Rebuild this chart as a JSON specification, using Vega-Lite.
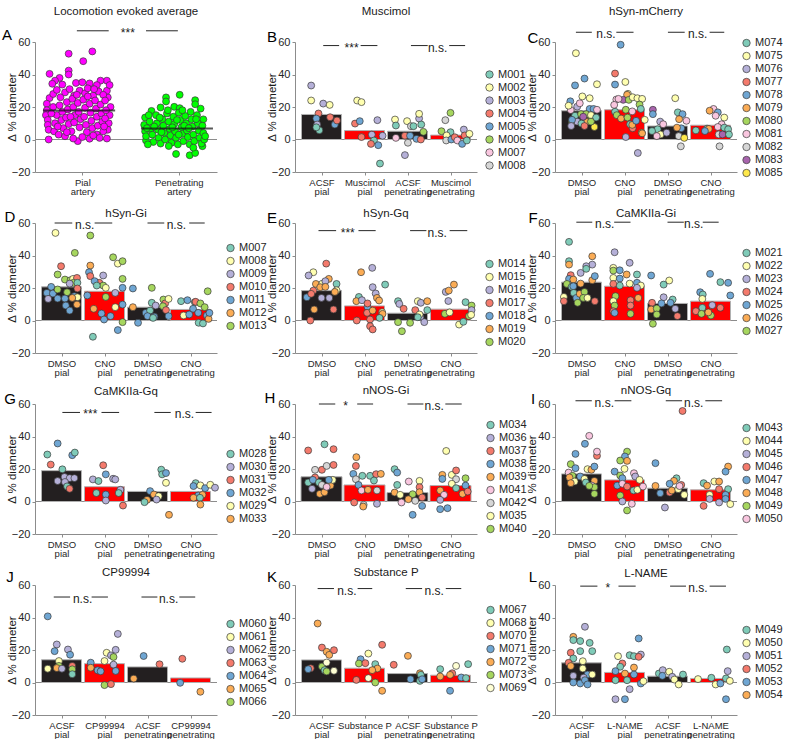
{
"$schema":"https://vega.github.io/schema/vega-lite/v6.json",
"padding":{"left":1,"top":5,"right":0,"bottom":0},
"config":{"font":"Liberation Sans","view":{"stroke":null},
"title":{"fontSize":11.5,"fontWeight":"normal","color":"#1a1a1a","anchor":"middle"},
"axis":{"grid":false,"domainColor":"#8c8c8c","tickColor":"#8c8c8c","labelColor":"#262626","titleColor":"#1a1a1a","titleFontWeight":"normal","tickSize":3,"labelPadding":2,"labelOverlap":false},
"axisX":{"labelFontSize":9.5,"labelLineHeight":9.5,"labelAngle":0},
"axisY":{"labelFontSize":11,"titleFontSize":11.5,"titlePadding":-6,"labelOverlap":false,"tickCount":10},
"legend":{"orient":"none","padding":0,"rowPadding":1,"labelFontSize":11,"labelColor":"#262626","symbolSize":55,"symbolType":"circle","symbolStrokeColor":"#4a4a4a","symbolStrokeWidth":0.8,"labelOffset":3}},
"resolve":{"scale":{"color":"independent","fill":"independent","x":"independent","y":"independent"},"axis":{"x":"independent","y":"independent"},"legend":{"color":"independent"}},
"datasets":{
"letters":[{"p":"A","t":"A"},{"p":"B","t":"B"},{"p":"C","t":"C"},{"p":"D","t":"D"},{"p":"E","t":"E"},{"p":"F","t":"F"},{"p":"G","t":"G"},{"p":"H","t":"H"},{"p":"I","t":"I"},{"p":"J","t":"J"},{"p":"K","t":"K"},{"p":"L","t":"L"}],
"bars":[{"p":"A","x":0.485,"y":17.8,"t":"c"},{"p":"A","x":1.56,"y":6.8,"t":"c"},
{"p":"B","x":0.5,"y":15.4,"t":"c"},{"p":"B","x":1.5,"y":5.5,"t":"d"},{"p":"B","x":2.5,"y":5.1,"t":"c"},{"p":"B","x":3.5,"y":2.7,"t":"d"},
{"p":"C","x":0.5,"y":17.7,"t":"c"},{"p":"C","x":1.5,"y":18.3,"t":"d"},{"p":"C","x":2.5,"y":8.3,"t":"c"},{"p":"C","x":3.5,"y":8.8,"t":"d"},
{"p":"D","x":0.5,"y":20.7,"t":"c"},{"p":"D","x":1.5,"y":18,"t":"d"},{"p":"D","x":2.5,"y":8.2,"t":"c"},{"p":"D","x":3.5,"y":6.8,"t":"d"},
{"p":"E","x":0.5,"y":18.4,"t":"c"},{"p":"E","x":1.5,"y":9,"t":"d"},{"p":"E","x":2.5,"y":4.5,"t":"c"},{"p":"E","x":3.5,"y":7,"t":"d"},
{"p":"F","x":0.5,"y":23.6,"t":"c"},{"p":"F","x":1.5,"y":21.1,"t":"d"},{"p":"F","x":2.5,"y":10.5,"t":"c"},{"p":"F","x":3.5,"y":11.9,"t":"d"},
{"p":"G","x":0.5,"y":19,"t":"c"},{"p":"G","x":1.5,"y":9.1,"t":"d"},{"p":"G","x":2.5,"y":6.2,"t":"c"},{"p":"G","x":3.5,"y":6.2,"t":"d"},
{"p":"H","x":0.5,"y":15.2,"t":"c"},{"p":"H","x":1.5,"y":10.2,"t":"d"},{"p":"H","x":2.5,"y":5.5,"t":"c"},{"p":"H","x":3.5,"y":9.8,"t":"d"},
{"p":"I","x":0.5,"y":17,"t":"c"},{"p":"I","x":1.5,"y":13.3,"t":"d"},{"p":"I","x":2.5,"y":8.2,"t":"c"},{"p":"I","x":3.5,"y":7.2,"t":"d"},
{"p":"J","x":0.5,"y":14,"t":"c"},{"p":"J","x":1.5,"y":11.6,"t":"d"},{"p":"J","x":2.5,"y":9.6,"t":"c"},{"p":"J","x":3.5,"y":2.8,"t":"d"},
{"p":"K","x":0.5,"y":13.9,"t":"c"},{"p":"K","x":1.5,"y":8.8,"t":"d"},{"p":"K","x":2.5,"y":5.5,"t":"c"},{"p":"K","x":3.5,"y":4.5,"t":"d"},
{"p":"L","x":0.5,"y":12.1,"t":"c"},{"p":"L","x":1.5,"y":6.2,"t":"d"},{"p":"L","x":2.5,"y":3.9,"t":"c"},{"p":"L","x":3.5,"y":2.5,"t":"d"}],
"sig":[{"p":"A","x":0.46,"x2":0.81,"y":66.9},{"p":"A","x":1.22,"x2":1.57,"y":66.9},
{"p":"B","x":0.54,"x2":0.91,"y":57.8},{"p":"B","x":1.41,"x2":1.8,"y":57.8},{"p":"B","x":2.58,"x2":2.97,"y":57.8},{"p":"B","x":3.47,"x2":3.84,"y":57.8},
{"p":"C","x":0.37,"x2":0.74,"y":66},{"p":"C","x":1.31,"x2":1.71,"y":66},{"p":"C","x":2.51,"x2":2.9,"y":66},{"p":"C","x":3.48,"x2":3.82,"y":66},
{"p":"D","x":0.34,"x2":0.75,"y":60},{"p":"D","x":1.27,"x2":1.68,"y":60},{"p":"D","x":2.5,"x2":2.89,"y":60},{"p":"D","x":3.47,"x2":3.83,"y":60},
{"p":"E","x":0.43,"x2":0.84,"y":55.3},{"p":"E","x":1.36,"x2":1.76,"y":55.3},{"p":"E","x":2.56,"x2":2.94,"y":55.3},{"p":"E","x":3.48,"x2":3.89,"y":55.3},
{"p":"F","x":0.38,"x2":0.75,"y":60.5},{"p":"F","x":1.26,"x2":1.64,"y":60.5},{"p":"F","x":2.5,"x2":2.88,"y":60.5},{"p":"F","x":3.32,"x2":3.69,"y":60.5},
{"p":"G","x":0.52,"x2":0.93,"y":54.8},{"p":"G","x":1.43,"x2":1.84,"y":54.8},{"p":"G","x":2.66,"x2":3.04,"y":54.8},{"p":"G","x":3.62,"x2":3.99,"y":54.8},
{"p":"H","x":0.44,"x2":0.82,"y":60},{"p":"H","x":1.33,"x2":1.7,"y":60},{"p":"H","x":2.5,"x2":2.87,"y":60},{"p":"H","x":3.38,"x2":3.76,"y":60},
{"p":"I","x":0.36,"x2":0.74,"y":62},{"p":"I","x":1.27,"x2":1.66,"y":62},{"p":"I","x":2.46,"x2":2.84,"y":62},{"p":"I","x":3.38,"x2":3.77,"y":62},
{"p":"J","x":0.32,"x2":0.7,"y":52.6},{"p":"J","x":1.2,"x2":1.58,"y":52.6},{"p":"J","x":2.36,"x2":2.73,"y":52.6},{"p":"J","x":3.24,"x2":3.61,"y":52.6},
{"p":"K","x":0.41,"x2":0.79,"y":57.8},{"p":"K","x":1.34,"x2":1.68,"y":57.8},{"p":"K","x":2.46,"x2":2.84,"y":57.8},{"p":"K","x":3.39,"x2":3.75,"y":57.8},
{"p":"L","x":0.47,"x2":0.87,"y":59.3},{"p":"L","x":1.36,"x2":1.76,"y":59.3},{"p":"L","x":2.56,"x2":2.93,"y":59.3},{"p":"L","x":3.48,"x2":3.86,"y":59.3}],
"sigt":[{"p":"A","x":1.02,"y":66.9,"t":"***"},
{"p":"B","x":1.2,"y":57.8,"t":"***"},{"p":"B","x":3.2,"y":57.8,"t":"n.s."},
{"p":"C","x":1.07,"y":66,"t":"n.s."},{"p":"C","x":3.2,"y":66,"t":"n.s."},
{"p":"D","x":1.04,"y":60,"t":"n.s."},{"p":"D","x":3.17,"y":60,"t":"n.s."},
{"p":"E","x":1.11,"y":55.3,"t":"***"},{"p":"E","x":3.19,"y":55.3,"t":"n.s."},
{"p":"F","x":1.04,"y":60.5,"t":"n.s."},{"p":"F","x":3.11,"y":60.5,"t":"n.s."},
{"p":"G","x":1.17,"y":54.8,"t":"***"},{"p":"G","x":3.36,"y":54.8,"t":"n.s."},
{"p":"H","x":1.06,"y":60,"t":"*"},{"p":"H","x":3.12,"y":60,"t":"n.s."},
{"p":"I","x":1.03,"y":62,"t":"n.s."},{"p":"I","x":3.11,"y":62,"t":"n.s."},
{"p":"J","x":0.99,"y":52.6,"t":"n.s."},{"p":"J","x":2.99,"y":52.6,"t":"n.s."},
{"p":"K","x":1.09,"y":57.8,"t":"n.s."},{"p":"K","x":3.12,"y":57.8,"t":"n.s."},
{"p":"L","x":1.11,"y":59.3,"t":"*"},{"p":"L","x":3.21,"y":59.3,"t":"n.s."}],
"pts":[
{"p":"A","m":"Pial","x":0.15,"y":0},{"p":"A","m":"Pial","x":0.16,"y":40.4},{"p":"A","m":"Pial","x":0.37,"y":52.8},{"p":"A","m":"Pial","x":0.37,"y":42.4},{"p":"A","m":"Pial","x":0.37,"y":40},{"p":"A","m":"Pial","x":0.53,"y":48.2},{"p":"A","m":"Pial","x":0.63,"y":54.2},{"p":"A","m":"Pial","x":0.79,"y":0.6},{"p":"A","m":"Pial","x":0.47,"y":-1},{"p":"A","m":"Pial","x":0.42,"y":0.6},{"p":"A","m":"Pial","x":0.68,"y":3.1},{"p":"A","m":"Pial","x":0.27,"y":37.9},{"p":"A","m":"Pial","x":0.22,"y":36.2},{"p":"A","m":"Pial","x":0.79,"y":36.2},{"p":"A","m":"Pial","x":0.72,"y":36.2},{"p":"A","m":"Pial","x":0.8,"y":25.9},{"p":"A","m":"Pial","x":0.79,"y":30},{"p":"A","m":"Pial","x":0.19,"y":34.3},{"p":"A","m":"Pial","x":0.3,"y":33.8},{"p":"A","m":"Pial","x":0.45,"y":34.8},{"p":"A","m":"Pial","x":0.52,"y":35.2},{"p":"A","m":"Pial","x":0.6,"y":34.5},{"p":"A","m":"Pial","x":0.68,"y":33.5},{"p":"A","m":"Pial","x":0.16,"y":25.5},{"p":"A","m":"Pial","x":0.13,"y":22},{"p":"A","m":"Pial","x":0.13,"y":18},{"p":"A","m":"Pial","x":0.12,"y":15},{"p":"A","m":"Pial","x":0.14,"y":12},{"p":"A","m":"Pial","x":0.14,"y":9},{"p":"A","m":"Pial","x":0.15,"y":6},{"p":"A","m":"Pial","x":0.2,"y":28},{"p":"A","m":"Pial","x":0.24,"y":30.5},{"p":"A","m":"Pial","x":0.28,"y":26},{"p":"A","m":"Pial","x":0.33,"y":29},{"p":"A","m":"Pial","x":0.38,"y":31},{"p":"A","m":"Pial","x":0.43,"y":27},{"p":"A","m":"Pial","x":0.49,"y":30},{"p":"A","m":"Pial","x":0.55,"y":28.5},{"p":"A","m":"Pial","x":0.58,"y":31.5},{"p":"A","m":"Pial","x":0.64,"y":27},{"p":"A","m":"Pial","x":0.7,"y":29.5},{"p":"A","m":"Pial","x":0.75,"y":27.5},{"p":"A","m":"Pial","x":0.82,"y":33.5},{"p":"A","m":"Pial","x":0.83,"y":20},{"p":"A","m":"Pial","x":0.82,"y":15},{"p":"A","m":"Pial","x":0.81,"y":10},{"p":"A","m":"Pial","x":0.8,"y":6},{"p":"A","m":"Pial","x":0.2,"y":20},{"p":"A","m":"Pial","x":0.24,"y":15},{"p":"A","m":"Pial","x":0.22,"y":10},{"p":"A","m":"Pial","x":0.21,"y":5},{"p":"A","m":"Pial","x":0.27,"y":21},{"p":"A","m":"Pial","x":0.3,"y":17},{"p":"A","m":"Pial","x":0.29,"y":12},{"p":"A","m":"Pial","x":0.31,"y":7},{"p":"A","m":"Pial","x":0.35,"y":23},{"p":"A","m":"Pial","x":0.36,"y":18.5},{"p":"A","m":"Pial","x":0.34,"y":13.5},{"p":"A","m":"Pial","x":0.37,"y":9.5},{"p":"A","m":"Pial","x":0.4,"y":5},{"p":"A","m":"Pial","x":0.41,"y":25},{"p":"A","m":"Pial","x":0.42,"y":20},{"p":"A","m":"Pial","x":0.44,"y":15},{"p":"A","m":"Pial","x":0.43,"y":10.5},{"p":"A","m":"Pial","x":0.47,"y":22.5},{"p":"A","m":"Pial","x":0.48,"y":17},{"p":"A","m":"Pial","x":0.5,"y":12.5},{"p":"A","m":"Pial","x":0.49,"y":7.5},{"p":"A","m":"Pial","x":0.53,"y":24.5},{"p":"A","m":"Pial","x":0.55,"y":19.5},{"p":"A","m":"Pial","x":0.54,"y":14},{"p":"A","m":"Pial","x":0.56,"y":9},{"p":"A","m":"Pial","x":0.57,"y":4.5},{"p":"A","m":"Pial","x":0.6,"y":22},{"p":"A","m":"Pial","x":0.61,"y":16.5},{"p":"A","m":"Pial","x":0.62,"y":11.5},{"p":"A","m":"Pial","x":0.63,"y":7},{"p":"A","m":"Pial","x":0.66,"y":24},{"p":"A","m":"Pial","x":0.67,"y":19},{"p":"A","m":"Pial","x":0.68,"y":14},{"p":"A","m":"Pial","x":0.69,"y":8.5},{"p":"A","m":"Pial","x":0.72,"y":21.5},{"p":"A","m":"Pial","x":0.73,"y":16},{"p":"A","m":"Pial","x":0.74,"y":11},{"p":"A","m":"Pial","x":0.75,"y":5},{"p":"A","m":"Pial","x":0.77,"y":24},{"p":"A","m":"Pial","x":0.78,"y":18},{"p":"A","m":"Pial","x":0.77,"y":13},{"p":"A","m":"Pial","x":0.26,"y":3},{"p":"A","m":"Pial","x":0.33,"y":2},{"p":"A","m":"Pial","x":0.52,"y":1.5},{"p":"A","m":"Pial","x":0.6,"y":0.5},{"p":"A","m":"Pial","x":0.71,"y":1},{"p":"A","m":"Pial","x":0.25,"y":8},{"p":"A","m":"Pial","x":0.46,"y":27.5},{"p":"A","m":"Pial","x":0.65,"y":31},{"p":"A","m":"Pial","x":0.39,"y":14},{"p":"A","m":"Pial","x":0.58,"y":26.5},{"p":"A","m":"Pial","x":0.18,"y":16},{"p":"A","m":"Pial","x":0.35,"y":4.5},{"p":"A","m":"Pial","x":0.76,"y":8},{"p":"A","m":"Pial","x":0.64,"y":2.5},
{"p":"A","m":"Penetrating","x":1.59,"y":27.5},{"p":"A","m":"Penetrating","x":1.44,"y":25.9},{"p":"A","m":"Penetrating","x":1.44,"y":23.4},{"p":"A","m":"Penetrating","x":1.76,"y":24.2},{"p":"A","m":"Penetrating","x":1.76,"y":21.7},{"p":"A","m":"Penetrating","x":1.55,"y":-8.9},{"p":"A","m":"Penetrating","x":1.7,"y":-9.7},{"p":"A","m":"Penetrating","x":1.76,"y":-8.3},{"p":"A","m":"Penetrating","x":1.28,"y":17.6},{"p":"A","m":"Penetrating","x":1.38,"y":19.7},{"p":"A","m":"Penetrating","x":1.53,"y":20.1},{"p":"A","m":"Penetrating","x":1.59,"y":19.3},{"p":"A","m":"Penetrating","x":1.85,"y":12.4},{"p":"A","m":"Penetrating","x":1.84,"y":-4.1},{"p":"A","m":"Penetrating","x":1.22,"y":-0.6},{"p":"A","m":"Penetrating","x":1.21,"y":13.5},{"p":"A","m":"Penetrating","x":1.2,"y":9},{"p":"A","m":"Penetrating","x":1.21,"y":5},{"p":"A","m":"Penetrating","x":1.22,"y":2},{"p":"A","m":"Penetrating","x":1.26,"y":11},{"p":"A","m":"Penetrating","x":1.27,"y":6.5},{"p":"A","m":"Penetrating","x":1.29,"y":3},{"p":"A","m":"Penetrating","x":1.3,"y":-1.5},{"p":"A","m":"Penetrating","x":1.33,"y":15},{"p":"A","m":"Penetrating","x":1.34,"y":10},{"p":"A","m":"Penetrating","x":1.35,"y":6},{"p":"A","m":"Penetrating","x":1.36,"y":1},{"p":"A","m":"Penetrating","x":1.38,"y":-2.5},{"p":"A","m":"Penetrating","x":1.4,"y":12.5},{"p":"A","m":"Penetrating","x":1.41,"y":8.5},{"p":"A","m":"Penetrating","x":1.42,"y":4},{"p":"A","m":"Penetrating","x":1.43,"y":0},{"p":"A","m":"Penetrating","x":1.45,"y":16},{"p":"A","m":"Penetrating","x":1.47,"y":11},{"p":"A","m":"Penetrating","x":1.48,"y":6.5},{"p":"A","m":"Penetrating","x":1.49,"y":2.5},{"p":"A","m":"Penetrating","x":1.5,"y":-2},{"p":"A","m":"Penetrating","x":1.52,"y":14},{"p":"A","m":"Penetrating","x":1.53,"y":9.5},{"p":"A","m":"Penetrating","x":1.54,"y":5},{"p":"A","m":"Penetrating","x":1.55,"y":1},{"p":"A","m":"Penetrating","x":1.57,"y":-3},{"p":"A","m":"Penetrating","x":1.58,"y":16.5},{"p":"A","m":"Penetrating","x":1.6,"y":12},{"p":"A","m":"Penetrating","x":1.61,"y":7.5},{"p":"A","m":"Penetrating","x":1.62,"y":3.5},{"p":"A","m":"Penetrating","x":1.63,"y":-1},{"p":"A","m":"Penetrating","x":1.65,"y":14.5},{"p":"A","m":"Penetrating","x":1.66,"y":10},{"p":"A","m":"Penetrating","x":1.67,"y":5.5},{"p":"A","m":"Penetrating","x":1.68,"y":1.5},{"p":"A","m":"Penetrating","x":1.7,"y":-3},{"p":"A","m":"Penetrating","x":1.71,"y":17},{"p":"A","m":"Penetrating","x":1.72,"y":12.5},{"p":"A","m":"Penetrating","x":1.73,"y":8},{"p":"A","m":"Penetrating","x":1.74,"y":3},{"p":"A","m":"Penetrating","x":1.75,"y":-1},{"p":"A","m":"Penetrating","x":1.78,"y":15},{"p":"A","m":"Penetrating","x":1.79,"y":10},{"p":"A","m":"Penetrating","x":1.8,"y":5.5},{"p":"A","m":"Penetrating","x":1.81,"y":1},{"p":"A","m":"Penetrating","x":1.83,"y":-2.5},{"p":"A","m":"Penetrating","x":1.84,"y":8.5},{"p":"A","m":"Penetrating","x":1.85,"y":4},{"p":"A","m":"Penetrating","x":1.86,"y":0},{"p":"A","m":"Penetrating","x":1.82,"y":19},{"p":"A","m":"Penetrating","x":1.25,"y":15},{"p":"A","m":"Penetrating","x":1.31,"y":8},{"p":"A","m":"Penetrating","x":1.37,"y":13.5},{"p":"A","m":"Penetrating","x":1.46,"y":18},{"p":"A","m":"Penetrating","x":1.51,"y":7.5},{"p":"A","m":"Penetrating","x":1.56,"y":12},{"p":"A","m":"Penetrating","x":1.64,"y":8.5},{"p":"A","m":"Penetrating","x":1.69,"y":7},{"p":"A","m":"Penetrating","x":1.77,"y":12.5},{"p":"A","m":"Penetrating","x":1.87,"y":2},{"p":"A","m":"Penetrating","x":1.24,"y":-3},{"p":"A","m":"Penetrating","x":1.39,"y":4.5},{"p":"A","m":"Penetrating","x":1.58,"y":3},{"p":"A","m":"Penetrating","x":1.47,"y":-4},{"p":"A","m":"Penetrating","x":1.62,"y":18},{"p":"A","m":"Penetrating","x":1.74,"y":-5},{"p":"A","m":"Penetrating","x":1.23,"y":7},
{"p":"B","m":"M003","x":0.26,"y":33.2},{"p":"B","m":"M002","x":0.26,"y":24},{"p":"B","m":"M003","x":0.54,"y":22.1},{"p":"B","m":"M002","x":0.69,"y":21.3},{"p":"B","m":"M004","x":0.43,"y":16},{"p":"B","m":"M005","x":0.38,"y":12.9},{"p":"B","m":"M004","x":0.7,"y":13.7},{"p":"B","m":"M003","x":0.4,"y":9.2},{"p":"B","m":"M001","x":0.45,"y":5.7},{"p":"B","m":"M001","x":0.38,"y":7.5},{"p":"B","m":"M005","x":0.81,"y":9.2},{"p":"B","m":"M004","x":0.86,"y":11.7},
{"p":"B","m":"M002","x":1.33,"y":24},{"p":"B","m":"M002","x":1.43,"y":23},{"p":"B","m":"M004","x":1.28,"y":9.8},{"p":"B","m":"M005","x":1.39,"y":11.3},{"p":"B","m":"M004","x":1.43,"y":1.5},{"p":"B","m":"M003","x":1.67,"y":3},{"p":"B","m":"M001","x":1.72,"y":-0.6},{"p":"B","m":"M004","x":1.65,"y":-2.7},{"p":"B","m":"M003","x":1.8,"y":11.9},{"p":"B","m":"M005","x":1.82,"y":-3.5},{"p":"B","m":"M003","x":1.92,"y":2.3},{"p":"B","m":"M001","x":1.86,"y":-14.8},
{"p":"B","m":"M002","x":2.21,"y":12.3},{"p":"B","m":"M001","x":2.23,"y":8.6},{"p":"B","m":"M007","x":2.23,"y":1},{"p":"B","m":"M002","x":2.49,"y":11.3},{"p":"B","m":"M004","x":2.44,"y":2.3},{"p":"B","m":"M003","x":2.44,"y":-9.6},{"p":"B","m":"M008","x":2.58,"y":8.2},{"p":"B","m":"M001","x":2.64,"y":8.2},{"p":"B","m":"M005","x":2.56,"y":2.3},{"p":"B","m":"M008","x":2.51,"y":-2},{"p":"B","m":"M003","x":2.77,"y":12.9},{"p":"B","m":"M002","x":2.77,"y":15.8},{"p":"B","m":"M001","x":2.82,"y":9.2},{"p":"B","m":"M006","x":2.87,"y":4.7},{"p":"B","m":"M005","x":2.71,"y":0.4},{"p":"B","m":"M004","x":2.81,"y":0},
{"p":"B","m":"M008","x":3.38,"y":11.9},{"p":"B","m":"M006","x":3.5,"y":16.4},{"p":"B","m":"M006","x":3.29,"y":5.1},{"p":"B","m":"M001","x":3.5,"y":4.5},{"p":"B","m":"M002","x":3.41,"y":2.5},{"p":"B","m":"M008","x":3.4,"y":-0.6},{"p":"B","m":"M005","x":3.52,"y":0},{"p":"B","m":"M004","x":3.6,"y":1.4},{"p":"B","m":"M007","x":3.66,"y":-0.6},{"p":"B","m":"M005","x":3.77,"y":-2.7},{"p":"B","m":"M003","x":3.81,"y":6.1},{"p":"B","m":"M004","x":3.83,"y":2.5},{"p":"B","m":"M002","x":3.94,"y":3.5},{"p":"B","m":"M001","x":3.88,"y":-0.6},
{"p":"C","m":"M075","x":0.37,"y":53.1},{"p":"C","m":"M078","x":0.35,"y":33.3},{"p":"C","m":"M078","x":0.57,"y":37.5},{"p":"C","m":"M075","x":0.86,"y":34},{"p":"C","m":"M075","x":0.52,"y":26.5},{"p":"C","m":"M075","x":0.69,"y":25.4},{"p":"C","m":"M078","x":0.24,"y":23.5},{"p":"C","m":"M081","x":0.25,"y":18.1},{"p":"C","m":"M075","x":0.2,"y":20.8},{"p":"C","m":"M076","x":0.4,"y":20.2},{"p":"C","m":"M081","x":0.46,"y":22.3},{"p":"C","m":"M078","x":0.69,"y":18.8},{"p":"C","m":"M078","x":0.78,"y":18.8},{"p":"C","m":"M081","x":0.86,"y":18.3},{"p":"C","m":"M074","x":0.35,"y":14.6},{"p":"C","m":"M080","x":0.49,"y":15.6},{"p":"C","m":"M080","x":0.28,"y":11},{"p":"C","m":"M076","x":0.4,"y":11},{"p":"C","m":"M078","x":0.28,"y":12.1},{"p":"C","m":"M079","x":0.63,"y":11},{"p":"C","m":"M080","x":0.61,"y":15.6},{"p":"C","m":"M085","x":0.74,"y":12.5},{"p":"C","m":"M074","x":0.5,"y":9.8},{"p":"C","m":"M077","x":0.57,"y":8.3},{"p":"C","m":"M076","x":0.26,"y":8.3},{"p":"C","m":"M083","x":0.54,"y":14},{"p":"C","m":"M085","x":0.8,"y":7.7},{"p":"C","m":"M075","x":0.72,"y":15},{"p":"C","m":"M074","x":0.84,"y":13.5},{"p":"C","m":"M080","x":0.72,"y":11},
{"p":"C","m":"M078","x":1.41,"y":58.3},{"p":"C","m":"M077","x":1.28,"y":40.6},{"p":"C","m":"M078","x":1.28,"y":33.8},{"p":"C","m":"M075","x":1.52,"y":35.4},{"p":"C","m":"M075","x":1.58,"y":28.1},{"p":"C","m":"M079","x":1.56,"y":27.5},{"p":"C","m":"M083","x":1.47,"y":24.4},{"p":"C","m":"M080","x":1.6,"y":24.4},{"p":"C","m":"M081","x":1.31,"y":24.6},{"p":"C","m":"M081","x":1.36,"y":25},{"p":"C","m":"M075","x":1.69,"y":26},{"p":"C","m":"M075","x":1.8,"y":25.4},{"p":"C","m":"M075","x":1.91,"y":25},{"p":"C","m":"M080","x":1.85,"y":21.5},{"p":"C","m":"M074","x":1.88,"y":18.8},{"p":"C","m":"M081","x":1.26,"y":21.3},{"p":"C","m":"M080","x":1.53,"y":18.3},{"p":"C","m":"M074","x":1.28,"y":17.1},{"p":"C","m":"M080","x":1.32,"y":15},{"p":"C","m":"M079","x":1.42,"y":12.9},{"p":"C","m":"M080","x":1.57,"y":13.5},{"p":"C","m":"M081","x":1.68,"y":17.3},{"p":"C","m":"M074","x":1.63,"y":9.4},{"p":"C","m":"M077","x":1.69,"y":6.9},{"p":"C","m":"M079","x":1.68,"y":9},{"p":"C","m":"M075","x":1.97,"y":12.1},{"p":"C","m":"M085","x":1.9,"y":4.2},{"p":"C","m":"M079","x":1.91,"y":3.8},{"p":"C","m":"M076","x":1.53,"y":1.5},{"p":"C","m":"M076","x":1.81,"y":-8.3},{"p":"C","m":"M078","x":1.77,"y":11.5},
{"p":"C","m":"M075","x":2.68,"y":25.4},{"p":"C","m":"M083","x":2.16,"y":18.3},{"p":"C","m":"M078","x":2.16,"y":15.6},{"p":"C","m":"M074","x":2.74,"y":16.7},{"p":"C","m":"M078","x":2.85,"y":15.6},{"p":"C","m":"M076","x":2.33,"y":11},{"p":"C","m":"M081","x":2.94,"y":11.5},{"p":"C","m":"M074","x":2.27,"y":6.3},{"p":"C","m":"M081","x":2.4,"y":9.4},{"p":"C","m":"M079","x":2.77,"y":12.5},{"p":"C","m":"M078","x":2.82,"y":6.9},{"p":"C","m":"M079","x":2.72,"y":7.3},{"p":"C","m":"M074","x":2.14,"y":5.2},{"p":"C","m":"M075","x":2.34,"y":3.1},{"p":"C","m":"M081","x":2.25,"y":2.1},{"p":"C","m":"M082","x":2.76,"y":2.1},{"p":"C","m":"M082","x":2.81,"y":-4.2},{"p":"C","m":"M085","x":2.89,"y":1},{"p":"C","m":"M076","x":2.48,"y":4.2},
{"p":"C","m":"M081","x":3.57,"y":18.8},{"p":"C","m":"M079","x":3.48,"y":17.7},{"p":"C","m":"M078","x":3.67,"y":16.7},{"p":"C","m":"M081","x":3.62,"y":14.6},{"p":"C","m":"M075","x":3.82,"y":13.5},{"p":"C","m":"M074","x":3.42,"y":6.7},{"p":"C","m":"M079","x":3.46,"y":6.5},{"p":"C","m":"M081","x":3.76,"y":9.4},{"p":"C","m":"M081","x":3.67,"y":7.7},{"p":"C","m":"M082","x":3.69,"y":3.1},{"p":"C","m":"M083","x":3.78,"y":3.1},{"p":"C","m":"M082","x":3.71,"y":-4.2},{"p":"C","m":"M074","x":3.82,"y":7.3},{"p":"C","m":"M074","x":3.91,"y":6.3},{"p":"C","m":"M074","x":3.93,"y":3.1},{"p":"C","m":"M078","x":3.37,"y":5.2},{"p":"C","m":"M074","x":3.16,"y":5.6},
{"p":"D","m":"M008","x":0.36,"y":53.9},{"p":"D","m":"M013","x":0.81,"y":41.6},{"p":"D","m":"M010","x":0.49,"y":33.4},{"p":"D","m":"M013","x":0.41,"y":28.3},{"p":"D","m":"M013","x":0.58,"y":25.2},{"p":"D","m":"M013","x":0.71,"y":24.8},{"p":"D","m":"M008","x":0.77,"y":25.6},{"p":"D","m":"M010","x":0.86,"y":26.2},{"p":"D","m":"M013","x":0.78,"y":23.2},{"p":"D","m":"M007","x":0.87,"y":23.2},{"p":"D","m":"M010","x":0.87,"y":19.7},{"p":"D","m":"M009","x":0.69,"y":22.7},{"p":"D","m":"M011","x":0.26,"y":20.7},{"p":"D","m":"M011","x":0.16,"y":17},{"p":"D","m":"M011","x":0.3,"y":16.6},{"p":"D","m":"M013","x":0.41,"y":19.1},{"p":"D","m":"M009","x":0.19,"y":13.3},{"p":"D","m":"M011","x":0.41,"y":13.5},{"p":"D","m":"M013","x":0.63,"y":17.4},{"p":"D","m":"M011","x":0.8,"y":15},{"p":"D","m":"M008","x":0.87,"y":14.3},{"p":"D","m":"M012","x":0.75,"y":13.9},{"p":"D","m":"M011","x":0.58,"y":13.5},{"p":"D","m":"M011","x":0.6,"y":9.2},{"p":"D","m":"M011","x":0.69,"y":6.1},{"p":"D","m":"M012","x":0.86,"y":9.8},
{"p":"D","m":"M013","x":1.17,"y":52.3},{"p":"D","m":"M012","x":1.17,"y":33.8},{"p":"D","m":"M013","x":1.7,"y":38.9},{"p":"D","m":"M008","x":1.81,"y":35},{"p":"D","m":"M013","x":1.92,"y":36.5},{"p":"D","m":"M013","x":1.92,"y":25.6},{"p":"D","m":"M011","x":1.14,"y":29.7},{"p":"D","m":"M010","x":1.17,"y":27.3},{"p":"D","m":"M009","x":1.47,"y":27.7},{"p":"D","m":"M010","x":1.38,"y":23.2},{"p":"D","m":"M011","x":1.27,"y":24.2},{"p":"D","m":"M013","x":1.47,"y":21.5},{"p":"D","m":"M008","x":1.53,"y":20.1},{"p":"D","m":"M007","x":1.32,"y":21.5},{"p":"D","m":"M011","x":1.1,"y":15.4},{"p":"D","m":"M013","x":1.53,"y":14.5},{"p":"D","m":"M012","x":1.25,"y":7.2},{"p":"D","m":"M011","x":1.43,"y":4.3},{"p":"D","m":"M011","x":1.49,"y":0.6},{"p":"D","m":"M011","x":1.64,"y":2.7},{"p":"D","m":"M009","x":1.75,"y":17},{"p":"D","m":"M008","x":1.75,"y":8.2},{"p":"D","m":"M011","x":1.92,"y":9.8},{"p":"D","m":"M011","x":1.92,"y":20.1},{"p":"D","m":"M013","x":1.92,"y":-1},{"p":"D","m":"M011","x":1.81,"y":-5.9},{"p":"D","m":"M007","x":1.23,"y":-10},
{"p":"D","m":"M011","x":2.16,"y":19.7},{"p":"D","m":"M013","x":2.6,"y":20.1},{"p":"D","m":"M012","x":2.16,"y":8.2},{"p":"D","m":"M007","x":2.6,"y":10.9},{"p":"D","m":"M011","x":2.28,"y":-1.4},{"p":"D","m":"M011","x":2.46,"y":4.7},{"p":"D","m":"M007","x":2.56,"y":6.1},{"p":"D","m":"M009","x":2.69,"y":9.2},{"p":"D","m":"M011","x":2.5,"y":2.7},{"p":"D","m":"M011","x":2.66,"y":2.3},{"p":"D","m":"M007","x":2.63,"y":1.6},{"p":"D","m":"M013","x":2.87,"y":12.9},{"p":"D","m":"M010","x":2.91,"y":10.5},{"p":"D","m":"M008","x":2.99,"y":13.3},{"p":"D","m":"M013","x":2.86,"y":8.8},{"p":"D","m":"M010","x":2.93,"y":6.4},{"p":"D","m":"M011","x":2.99,"y":2.7},
{"p":"D","m":"M013","x":3.9,"y":18},{"p":"D","m":"M007","x":3.28,"y":11.9},{"p":"D","m":"M011","x":3.43,"y":12.5},{"p":"D","m":"M007","x":3.6,"y":11.3},{"p":"D","m":"M010","x":3.62,"y":11.5},{"p":"D","m":"M013","x":3.73,"y":10.5},{"p":"D","m":"M011","x":3.56,"y":7.2},{"p":"D","m":"M008","x":3.34,"y":3.1},{"p":"D","m":"M011","x":3.47,"y":3.7},{"p":"D","m":"M011","x":3.68,"y":4.7},{"p":"D","m":"M007","x":3.69,"y":-1.4},{"p":"D","m":"M007","x":3.79,"y":-1.8},{"p":"D","m":"M011","x":3.88,"y":3.1},{"p":"D","m":"M013","x":3.83,"y":8.2},{"p":"D","m":"M012","x":3.92,"y":1},{"p":"D","m":"M011","x":3.94,"y":4.7},
{"p":"E","m":"M015","x":0.31,"y":29.7},{"p":"E","m":"M017","x":0.61,"y":35},{"p":"E","m":"M016","x":0.2,"y":27.7},{"p":"E","m":"M019","x":0.67,"y":25.6},{"p":"E","m":"M019","x":0.37,"y":22.5},{"p":"E","m":"M015","x":0.52,"y":22.7},{"p":"E","m":"M016","x":0.59,"y":24.2},{"p":"E","m":"M019","x":0.47,"y":20.5},{"p":"E","m":"M019","x":0.59,"y":20.7},{"p":"E","m":"M014","x":0.85,"y":22.5},{"p":"E","m":"M017","x":0.31,"y":18.4},{"p":"E","m":"M018","x":0.16,"y":14.3},{"p":"E","m":"M015","x":0.85,"y":18.6},{"p":"E","m":"M019","x":0.81,"y":17.6},{"p":"E","m":"M016","x":0.5,"y":13.9},{"p":"E","m":"M016","x":0.68,"y":13.9},{"p":"E","m":"M017","x":0.26,"y":16.4},{"p":"E","m":"M019","x":0.33,"y":6.8},{"p":"E","m":"M017","x":0.78,"y":6.8},{"p":"E","m":"M017","x":0.24,"y":0},
{"p":"E","m":"M019","x":1.42,"y":29.7},{"p":"E","m":"M016","x":1.68,"y":32.4},{"p":"E","m":"M016","x":1.69,"y":20.5},{"p":"E","m":"M014","x":1.98,"y":22.1},{"p":"E","m":"M014","x":1.37,"y":14.5},{"p":"E","m":"M016","x":1.76,"y":16.6},{"p":"E","m":"M019","x":1.79,"y":13.9},{"p":"E","m":"M019","x":1.84,"y":12.3},{"p":"E","m":"M019","x":1.31,"y":11.9},{"p":"E","m":"M016","x":1.44,"y":12.5},{"p":"E","m":"M018","x":1.57,"y":8.4},{"p":"E","m":"M017","x":1.57,"y":10.5},{"p":"E","m":"M017","x":1.56,"y":4.7},{"p":"E","m":"M019","x":1.69,"y":6.1},{"p":"E","m":"M015","x":1.91,"y":5.1},{"p":"E","m":"M019","x":1.92,"y":4.1},{"p":"E","m":"M017","x":1.32,"y":0},{"p":"E","m":"M017","x":1.63,"y":0.6},{"p":"E","m":"M017","x":1.63,"y":-3.5},{"p":"E","m":"M017","x":1.69,"y":-5.5},{"p":"E","m":"M014","x":1.85,"y":1.6},
{"p":"E","m":"M014","x":2.28,"y":11.9},{"p":"E","m":"M016","x":2.31,"y":10.2},{"p":"E","m":"M017","x":2.41,"y":7.2},{"p":"E","m":"M020","x":2.28,"y":-1},{"p":"E","m":"M020","x":2.56,"y":-1.4},{"p":"E","m":"M020","x":2.37,"y":-6.6},{"p":"E","m":"M015","x":2.74,"y":11.9},{"p":"E","m":"M016","x":2.81,"y":10.9},{"p":"E","m":"M019","x":2.96,"y":11.9},{"p":"E","m":"M017","x":2.68,"y":6.4},{"p":"E","m":"M014","x":2.96,"y":6.4},{"p":"E","m":"M016","x":2.8,"y":2},{"p":"E","m":"M016","x":2.89,"y":-1},{"p":"E","m":"M015","x":2.78,"y":3.7},{"p":"E","m":"M014","x":2.74,"y":2},
{"p":"E","m":"M019","x":3.58,"y":22.1},{"p":"E","m":"M016","x":3.39,"y":17.6},{"p":"E","m":"M019","x":3.46,"y":18.4},{"p":"E","m":"M016","x":3.45,"y":12},{"p":"E","m":"M014","x":3.85,"y":11.3},{"p":"E","m":"M020","x":3.99,"y":9.2},{"p":"E","m":"M016","x":3.99,"y":6.4},{"p":"E","m":"M020","x":3.37,"y":4.1},{"p":"E","m":"M015","x":3.7,"y":-2.5},{"p":"E","m":"M014","x":3.8,"y":-0.8},{"p":"E","m":"M020","x":3.93,"y":2.7},{"p":"E","m":"M015","x":3.98,"y":3.5},{"p":"E","m":"M015","x":3.48,"y":5},
{"p":"F","m":"M021","x":0.21,"y":48.4},{"p":"F","m":"M021","x":0.21,"y":36.5},{"p":"F","m":"M026","x":0.21,"y":34.4},{"p":"F","m":"M026","x":0.75,"y":39.5},{"p":"F","m":"M023","x":0.75,"y":34.4},{"p":"F","m":"M023","x":0.61,"y":33.4},{"p":"F","m":"M023","x":0.48,"y":29.3},{"p":"F","m":"M024","x":0.25,"y":27.9},{"p":"F","m":"M026","x":0.75,"y":24.8},{"p":"F","m":"M025","x":0.81,"y":27.3},{"p":"F","m":"M021","x":0.61,"y":31.8},{"p":"F","m":"M025","x":0.21,"y":25.6},{"p":"F","m":"M026","x":0.31,"y":25.2},{"p":"F","m":"M026","x":0.48,"y":22.7},{"p":"F","m":"M027","x":0.16,"y":22.5},{"p":"F","m":"M021","x":0.27,"y":20.7},{"p":"F","m":"M025","x":0.31,"y":21.1},{"p":"F","m":"M021","x":0.32,"y":17},{"p":"F","m":"M025","x":0.38,"y":13.9},{"p":"F","m":"M022","x":0.09,"y":14.5},{"p":"F","m":"M024","x":0.09,"y":11.9},{"p":"F","m":"M026","x":0.46,"y":16.4},{"p":"F","m":"M027","x":0.57,"y":17.6},{"p":"F","m":"M027","x":0.54,"y":13.9},{"p":"F","m":"M022","x":0.64,"y":13.9},{"p":"F","m":"M027","x":0.41,"y":10.9},{"p":"F","m":"M024","x":0.81,"y":11.9},
{"p":"F","m":"M023","x":1.27,"y":42},{"p":"F","m":"M023","x":1.62,"y":35.5},{"p":"F","m":"M022","x":1.24,"y":32.4},{"p":"F","m":"M027","x":1.24,"y":30.7},{"p":"F","m":"M025","x":1.39,"y":30.9},{"p":"F","m":"M026","x":1.55,"y":28.3},{"p":"F","m":"M021","x":1.79,"y":28.3},{"p":"F","m":"M022","x":1.24,"y":26.2},{"p":"F","m":"M025","x":1.39,"y":25.8},{"p":"F","m":"M021","x":1.39,"y":21.5},{"p":"F","m":"M022","x":1.62,"y":22.7},{"p":"F","m":"M025","x":1.79,"y":23.2},{"p":"F","m":"M022","x":1.88,"y":21.5},{"p":"F","m":"M024","x":1.24,"y":22.5},{"p":"F","m":"M023","x":1.79,"y":20.1},{"p":"F","m":"M027","x":1.29,"y":15},{"p":"F","m":"M026","x":1.82,"y":13.9},{"p":"F","m":"M024","x":1.64,"y":12.5},{"p":"F","m":"M022","x":1.24,"y":11.9},{"p":"F","m":"M027","x":1.27,"y":9.2},{"p":"F","m":"M024","x":1.64,"y":9.2},{"p":"F","m":"M024","x":1.24,"y":5.7},{"p":"F","m":"M025","x":1.27,"y":4.7},{"p":"F","m":"M027","x":1.64,"y":4.1},
{"p":"F","m":"M025","x":2.12,"y":27.7},{"p":"F","m":"M022","x":2.54,"y":24.6},{"p":"F","m":"M021","x":2.41,"y":22.1},{"p":"F","m":"M023","x":2.41,"y":14.3},{"p":"F","m":"M021","x":2.62,"y":12.9},{"p":"F","m":"M024","x":2.14,"y":10.9},{"p":"F","m":"M025","x":2.57,"y":10.9},{"p":"F","m":"M026","x":2.12,"y":6.8},{"p":"F","m":"M027","x":2.25,"y":7.4},{"p":"F","m":"M025","x":2.36,"y":10.5},{"p":"F","m":"M023","x":2.68,"y":7.2},{"p":"F","m":"M027","x":2.25,"y":3.7},{"p":"F","m":"M024","x":2.73,"y":2.7},{"p":"F","m":"M027","x":2.16,"y":-2},
{"p":"F","m":"M025","x":3.49,"y":28.7},{"p":"F","m":"M021","x":3.73,"y":23.6},{"p":"F","m":"M025","x":3.91,"y":23.2},{"p":"F","m":"M025","x":3.26,"y":17.4},{"p":"F","m":"M021","x":3.32,"y":16},{"p":"F","m":"M022","x":3.31,"y":13.3},{"p":"F","m":"M025","x":3.96,"y":15.4},{"p":"F","m":"M021","x":3.31,"y":7.8},{"p":"F","m":"M023","x":3.54,"y":9.4},{"p":"F","m":"M024","x":3.16,"y":5.7},{"p":"F","m":"M024","x":3.73,"y":7.8},{"p":"F","m":"M027","x":3.29,"y":4.1},{"p":"F","m":"M027","x":3.51,"y":3.1},{"p":"F","m":"M026","x":3.45,"y":5},
{"p":"G","m":"M028","x":0.17,"y":28.9},{"p":"G","m":"M031","x":0.25,"y":22.7},{"p":"G","m":"M032","x":0.41,"y":35.7},{"p":"G","m":"M028","x":0.52,"y":19.8},{"p":"G","m":"M032","x":0.75,"y":28.5},{"p":"G","m":"M028","x":0.81,"y":30.1},{"p":"G","m":"M030","x":0.57,"y":15.1},{"p":"G","m":"M030","x":0.69,"y":14.4},{"p":"G","m":"M030","x":0.8,"y":14.4},{"p":"G","m":"M030","x":0.41,"y":12.6},{"p":"G","m":"M030","x":0.58,"y":12},{"p":"G","m":"M028","x":0.63,"y":9.3},{"p":"G","m":"M031","x":0.69,"y":7.8},
{"p":"G","m":"M031","x":1.47,"y":22.3},{"p":"G","m":"M030","x":1.23,"y":13.6},{"p":"G","m":"M028","x":1.36,"y":12.6},{"p":"G","m":"M032","x":1.53,"y":16.7},{"p":"G","m":"M030","x":1.7,"y":14},{"p":"G","m":"M030","x":1.75,"y":13.6},{"p":"G","m":"M028","x":1.31,"y":5.2},{"p":"G","m":"M032","x":1.53,"y":4.3},{"p":"G","m":"M030","x":1.53,"y":0.6},{"p":"G","m":"M030","x":1.87,"y":7.2},{"p":"G","m":"M028","x":1.83,"y":5.2},{"p":"G","m":"M031","x":1.93,"y":-2.5},
{"p":"G","m":"M028","x":2.82,"y":19.6},{"p":"G","m":"M028","x":2.84,"y":16.7},{"p":"G","m":"M032","x":2.93,"y":17.5},{"p":"G","m":"M029","x":2.93,"y":11.5},{"p":"G","m":"M032","x":2.56,"y":6.4},{"p":"G","m":"M033","x":2.65,"y":4.3},{"p":"G","m":"M029","x":2.76,"y":3.3},{"p":"G","m":"M030","x":2.71,"y":1.2},{"p":"G","m":"M033","x":2.49,"y":1},{"p":"G","m":"M028","x":2.43,"y":-0.4},{"p":"G","m":"M033","x":3,"y":-8.2},
{"p":"G","m":"M028","x":3.62,"y":11.3},{"p":"G","m":"M032","x":3.57,"y":9.5},{"p":"G","m":"M029","x":3.73,"y":9.9},{"p":"G","m":"M032","x":3.84,"y":8.2},{"p":"G","m":"M029","x":3.96,"y":10.3},{"p":"G","m":"M030","x":4.07,"y":8.5},{"p":"G","m":"M032","x":3.68,"y":3.7},{"p":"G","m":"M033","x":3.78,"y":4.1},{"p":"G","m":"M033","x":3.57,"y":2.3},{"p":"G","m":"M028","x":3.72,"y":2.3},{"p":"G","m":"M033","x":3.73,"y":-1.9},
{"p":"H","m":"M037","x":0.19,"y":31.4},{"p":"H","m":"M034","x":0.57,"y":35.2},{"p":"H","m":"M037","x":0.78,"y":32.2},{"p":"H","m":"M042","x":0.35,"y":19.5},{"p":"H","m":"M037","x":0.51,"y":19.5},{"p":"H","m":"M042","x":0.62,"y":21.9},{"p":"H","m":"M037","x":0.78,"y":22.5},{"p":"H","m":"M037","x":0.35,"y":14.8},{"p":"H","m":"M034","x":0.19,"y":11.7},{"p":"H","m":"M038","x":0.3,"y":13.3},{"p":"H","m":"M034","x":0.44,"y":11.7},{"p":"H","m":"M042","x":0.51,"y":10.2},{"p":"H","m":"M036","x":0.28,"y":7.8},{"p":"H","m":"M039","x":0.46,"y":4.7},{"p":"H","m":"M039","x":0.57,"y":5.7},{"p":"H","m":"M039","x":0.71,"y":9.8},{"p":"H","m":"M035","x":0.76,"y":13.3},{"p":"H","m":"M038","x":0.67,"y":13.3},{"p":"H","m":"M041","x":0.62,"y":9},
{"p":"H","m":"M039","x":1.31,"y":27.3},{"p":"H","m":"M037","x":1.3,"y":21.9},{"p":"H","m":"M038","x":1.24,"y":17},{"p":"H","m":"M042","x":1.3,"y":13.7},{"p":"H","m":"M034","x":1.45,"y":15.8},{"p":"H","m":"M034","x":1.63,"y":15.8},{"p":"H","m":"M037","x":1.77,"y":16.8},{"p":"H","m":"M039","x":1.88,"y":17},{"p":"H","m":"M034","x":1.72,"y":12.9},{"p":"H","m":"M038","x":1.36,"y":10.2},{"p":"H","m":"M041","x":1.43,"y":6.8},{"p":"H","m":"M039","x":1.58,"y":7.2},{"p":"H","m":"M042","x":1.79,"y":6.8},{"p":"H","m":"M037","x":1.26,"y":-0.6},{"p":"H","m":"M042","x":1.48,"y":-2},{"p":"H","m":"M039","x":1.47,"y":-3.1},{"p":"H","m":"M036","x":1.79,"y":-1.4},
{"p":"H","m":"M034","x":2.2,"y":19.9},{"p":"H","m":"M038","x":2.26,"y":17.8},{"p":"H","m":"M034","x":2.26,"y":10.2},{"p":"H","m":"M041","x":2.53,"y":12.3},{"p":"H","m":"M035","x":2.78,"y":12.7},{"p":"H","m":"M039","x":2.2,"y":5.5},{"p":"H","m":"M035","x":2.33,"y":4.1},{"p":"H","m":"M040","x":2.62,"y":4.5},{"p":"H","m":"M037","x":2.78,"y":8.8},{"p":"H","m":"M039","x":2.78,"y":5.7},{"p":"H","m":"M037","x":2.84,"y":2.5},{"p":"H","m":"M041","x":2.36,"y":-0.6},{"p":"H","m":"M039","x":2.52,"y":1.4},{"p":"H","m":"M042","x":2.68,"y":0.4},{"p":"H","m":"M038","x":2.84,"y":-2.7},{"p":"H","m":"M038","x":2.62,"y":-8.2},
{"p":"H","m":"M035","x":3.4,"y":31.1},{"p":"H","m":"M039","x":3.31,"y":16.4},{"p":"H","m":"M035","x":3.53,"y":16.4},{"p":"H","m":"M037","x":3.63,"y":19.1},{"p":"H","m":"M038","x":3.31,"y":13.9},{"p":"H","m":"M042","x":3.63,"y":13.7},{"p":"H","m":"M040","x":3.85,"y":14.3},{"p":"H","m":"M035","x":3.53,"y":10.9},{"p":"H","m":"M034","x":3.63,"y":8.2},{"p":"H","m":"M038","x":3.85,"y":9.8},{"p":"H","m":"M039","x":3.26,"y":6.8},{"p":"H","m":"M039","x":3.78,"y":4.7},{"p":"H","m":"M037","x":3.9,"y":6.1},{"p":"H","m":"M041","x":3.35,"y":4.1},{"p":"H","m":"M036","x":3.26,"y":1},{"p":"H","m":"M038","x":3.26,"y":-4.7},{"p":"H","m":"M038","x":3.43,"y":-4.1},
{"p":"I","m":"M050","x":0.68,"y":40.4},{"p":"I","m":"M047","x":0.58,"y":35.5},{"p":"I","m":"M047","x":0.36,"y":29.3},{"p":"I","m":"M046","x":0.86,"y":28.1},{"p":"I","m":"M050","x":0.86,"y":30.7},{"p":"I","m":"M049","x":0.25,"y":23},{"p":"I","m":"M047","x":0.36,"y":20.5},{"p":"I","m":"M044","x":0.64,"y":19.9},{"p":"I","m":"M048","x":0.73,"y":19.5},{"p":"I","m":"M047","x":0.8,"y":21.5},{"p":"I","m":"M050","x":0.2,"y":17.8},{"p":"I","m":"M047","x":0.47,"y":15.4},{"p":"I","m":"M049","x":0.29,"y":15.8},{"p":"I","m":"M048","x":0.22,"y":14.8},{"p":"I","m":"M044","x":0.57,"y":13.9},{"p":"I","m":"M044","x":0.34,"y":12.3},{"p":"I","m":"M048","x":0.25,"y":11.3},{"p":"I","m":"M043","x":0.6,"y":11.7},{"p":"I","m":"M048","x":0.8,"y":12.7},{"p":"I","m":"M050","x":0.74,"y":9.8},{"p":"I","m":"M049","x":0.8,"y":8.8},{"p":"I","m":"M049","x":0.8,"y":4.7},{"p":"I","m":"M049","x":0.68,"y":9.6},
{"p":"I","m":"M049","x":1.56,"y":30.7},{"p":"I","m":"M047","x":1.51,"y":27.7},{"p":"I","m":"M048","x":1.56,"y":25},{"p":"I","m":"M049","x":1.4,"y":25.2},{"p":"I","m":"M047","x":1.27,"y":18.4},{"p":"I","m":"M044","x":1.5,"y":20.1},{"p":"I","m":"M049","x":1.4,"y":16},{"p":"I","m":"M047","x":1.33,"y":9.8},{"p":"I","m":"M050","x":1.72,"y":17.4},{"p":"I","m":"M045","x":1.75,"y":15.4},{"p":"I","m":"M044","x":1.85,"y":13.3},{"p":"I","m":"M047","x":1.45,"y":14.3},{"p":"I","m":"M050","x":1.45,"y":10.9},{"p":"I","m":"M046","x":1.56,"y":9.2},{"p":"I","m":"M043","x":1.71,"y":6.8},{"p":"I","m":"M044","x":1.8,"y":7.2},{"p":"I","m":"M050","x":1.93,"y":9.2},{"p":"I","m":"M049","x":1.4,"y":3.7},{"p":"I","m":"M045","x":1.45,"y":0},{"p":"I","m":"M050","x":1.67,"y":-1.4},{"p":"I","m":"M049","x":1.56,"y":-5.5},
{"p":"I","m":"M046","x":2.85,"y":55.7},{"p":"I","m":"M047","x":2.22,"y":23.6},{"p":"I","m":"M048","x":2.22,"y":9.6},{"p":"I","m":"M047","x":2.33,"y":5.1},{"p":"I","m":"M043","x":2.71,"y":14.3},{"p":"I","m":"M048","x":2.65,"y":12.7},{"p":"I","m":"M047","x":2.55,"y":10.9},{"p":"I","m":"M046","x":2.55,"y":5.5},{"p":"I","m":"M048","x":2.6,"y":6.8},{"p":"I","m":"M046","x":2.82,"y":10.2},{"p":"I","m":"M044","x":2.75,"y":7.6},{"p":"I","m":"M044","x":2.89,"y":4.1},{"p":"I","m":"M045","x":2.44,"y":-3.7},{"p":"I","m":"M050","x":2.78,"y":9.5},
{"p":"I","m":"M048","x":3.91,"y":21.5},{"p":"I","m":"M047","x":3.85,"y":18.4},{"p":"I","m":"M043","x":3.34,"y":11.3},{"p":"I","m":"M044","x":3.59,"y":12.3},{"p":"I","m":"M048","x":3.7,"y":12.3},{"p":"I","m":"M048","x":3.42,"y":9.8},{"p":"I","m":"M046","x":3.7,"y":7.6},{"p":"I","m":"M043","x":3.91,"y":7.6},{"p":"I","m":"M047","x":3.85,"y":4.1},{"p":"I","m":"M044","x":3.48,"y":4.1},{"p":"I","m":"M045","x":3.48,"y":1.6},{"p":"I","m":"M047","x":3.85,"y":1.6},{"p":"I","m":"M045","x":3.7,"y":-0.6},{"p":"I","m":"M046","x":3.34,"y":-2.7},{"p":"I","m":"M044","x":3.96,"y":-1.6},
{"p":"J","m":"M064","x":0.18,"y":40.7},{"p":"J","m":"M062","x":0.39,"y":23.4},{"p":"J","m":"M064","x":0.34,"y":19.3},{"p":"J","m":"M062","x":0.65,"y":20.3},{"p":"J","m":"M064","x":0.7,"y":17.1},{"p":"J","m":"M061","x":0.44,"y":13.2},{"p":"J","m":"M066","x":0.44,"y":10.2},{"p":"J","m":"M065","x":0.39,"y":8.9},{"p":"J","m":"M062","x":0.51,"y":8.5},{"p":"J","m":"M061","x":0.18,"y":8.5},{"p":"J","m":"M063","x":0.75,"y":10.2},{"p":"J","m":"M066","x":0.75,"y":8.1},{"p":"J","m":"M060","x":0.75,"y":5.1},
{"p":"J","m":"M062","x":1.81,"y":29.9},{"p":"J","m":"M062","x":1.76,"y":20.1},{"p":"J","m":"M061","x":1.55,"y":18.3},{"p":"J","m":"M062","x":1.65,"y":16.7},{"p":"J","m":"M066","x":1.71,"y":15.7},{"p":"J","m":"M061","x":1.5,"y":13.2},{"p":"J","m":"M064","x":1.18,"y":12.2},{"p":"J","m":"M065","x":1.18,"y":9.1},{"p":"J","m":"M062","x":1.71,"y":11},{"p":"J","m":"M064","x":1.34,"y":7.5},{"p":"J","m":"M064","x":1.41,"y":6.9},{"p":"J","m":"M064","x":1.76,"y":7.1},{"p":"J","m":"M066","x":1.5,"y":-1.6},{"p":"J","m":"M063","x":1.65,"y":-1},
{"p":"J","m":"M064","x":2.41,"y":16.3},{"p":"J","m":"M063","x":2.78,"y":11.2},{"p":"J","m":"M065","x":2.18,"y":2.4},
{"p":"J","m":"M063","x":3.31,"y":14.6},{"p":"J","m":"M064","x":3.26,"y":-0.2},{"p":"J","m":"M065","x":3.73,"y":-5.7},
{"p":"K","m":"M072","x":0.41,"y":36.3},{"p":"K","m":"M070","x":0.51,"y":21.5},{"p":"K","m":"M072","x":0.62,"y":18.9},{"p":"K","m":"M072","x":0.68,"y":17},{"p":"K","m":"M070","x":0.79,"y":19.9},{"p":"K","m":"M070","x":0.25,"y":8.8},{"p":"K","m":"M071","x":0.19,"y":8.2},{"p":"K","m":"M073","x":0.51,"y":9.8},{"p":"K","m":"M067","x":0.57,"y":7.6},{"p":"K","m":"M069","x":0.62,"y":12.3},{"p":"K","m":"M073","x":0.62,"y":6.8},{"p":"K","m":"M069","x":0.79,"y":7.2},
{"p":"K","m":"M070","x":1.91,"y":23.2},{"p":"K","m":"M068","x":1.59,"y":17.8},{"p":"K","m":"M071","x":1.41,"y":14.3},{"p":"K","m":"M073","x":1.37,"y":11.7},{"p":"K","m":"M070","x":1.52,"y":11.9},{"p":"K","m":"M067","x":1.75,"y":11.3},{"p":"K","m":"M072","x":1.8,"y":8.6},{"p":"K","m":"M072","x":1.68,"y":7.6},{"p":"K","m":"M070","x":1.31,"y":1.6},{"p":"K","m":"M069","x":1.59,"y":2.7},{"p":"K","m":"M073","x":1.75,"y":0},{"p":"K","m":"M072","x":1.91,"y":-5.1},
{"p":"K","m":"M070","x":2.18,"y":10.9},{"p":"K","m":"M072","x":2.51,"y":16.4},{"p":"K","m":"M071","x":2.57,"y":2},{"p":"K","m":"M072","x":2.79,"y":5.7},{"p":"K","m":"M067","x":2.81,"y":4.7},{"p":"K","m":"M067","x":2.79,"y":1},{"p":"K","m":"M071","x":2.84,"y":2},
{"p":"K","m":"M067","x":3.26,"y":8.2},{"p":"K","m":"M069","x":3.63,"y":10.2},{"p":"K","m":"M067","x":3.91,"y":11.3},{"p":"K","m":"M072","x":3.26,"y":3.7},{"p":"K","m":"M070","x":3.54,"y":5.7},{"p":"K","m":"M072","x":3.49,"y":4.7},{"p":"K","m":"M071","x":3.75,"y":3.1},{"p":"K","m":"M067","x":3.86,"y":2.7},{"p":"K","m":"M071","x":3.49,"y":-5.1},
{"p":"L","m":"M051","x":0.58,"y":34.3},{"p":"L","m":"M054","x":0.31,"y":28.1},{"p":"L","m":"M049","x":0.31,"y":26.1},{"p":"L","m":"M049","x":0.47,"y":25.5},{"p":"L","m":"M049","x":0.69,"y":24.4},{"p":"L","m":"M049","x":0.75,"y":19.3},{"p":"L","m":"M049","x":0.47,"y":19.3},{"p":"L","m":"M052","x":0.25,"y":18.3},{"p":"L","m":"M049","x":0.31,"y":14.8},{"p":"L","m":"M050","x":0.53,"y":13.1},{"p":"L","m":"M052","x":0.2,"y":12.1},{"p":"L","m":"M054","x":0.25,"y":10.1},{"p":"L","m":"M050","x":0.53,"y":8.6},{"p":"L","m":"M053","x":0.64,"y":4.9},{"p":"L","m":"M050","x":0.75,"y":4.9},{"p":"L","m":"M051","x":0.31,"y":4.1},{"p":"L","m":"M051","x":0.55,"y":3},{"p":"L","m":"M053","x":0.31,"y":0},{"p":"L","m":"M053","x":0.47,"y":-0.6},{"p":"L","m":"M053","x":0.58,"y":1.4},{"p":"L","m":"M053","x":0.64,"y":-1.2},
{"p":"L","m":"M053","x":1.83,"y":27.1},{"p":"L","m":"M050","x":1.35,"y":16.2},{"p":"L","m":"M049","x":1.62,"y":16.8},{"p":"L","m":"M049","x":1.72,"y":16.2},{"p":"L","m":"M051","x":1.88,"y":17.2},{"p":"L","m":"M052","x":1.83,"y":15.8},{"p":"L","m":"M052","x":1.45,"y":11.7},{"p":"L","m":"M049","x":1.4,"y":9.7},{"p":"L","m":"M054","x":1.72,"y":9.2},{"p":"L","m":"M053","x":1.29,"y":7},{"p":"L","m":"M054","x":1.51,"y":5.5},{"p":"L","m":"M053","x":1.72,"y":4.9},{"p":"L","m":"M049","x":1.29,"y":1.4},{"p":"L","m":"M049","x":1.56,"y":1.4},{"p":"L","m":"M053","x":1.88,"y":-0.6},{"p":"L","m":"M050","x":1.94,"y":0.8},{"p":"L","m":"M051","x":1.62,"y":-4.1},{"p":"L","m":"M051","x":1.29,"y":-10.3},{"p":"L","m":"M053","x":1.51,"y":-10.3},
{"p":"L","m":"M049","x":2.3,"y":5.5},{"p":"L","m":"M051","x":2.39,"y":7.6},{"p":"L","m":"M050","x":2.54,"y":6.6},{"p":"L","m":"M053","x":2.38,"y":4.1},{"p":"L","m":"M051","x":2.61,"y":3.5},{"p":"L","m":"M050","x":2.66,"y":1.8},{"p":"L","m":"M050","x":2.76,"y":-1.2},{"p":"L","m":"M049","x":2.86,"y":4.9},
{"p":"L","m":"M049","x":3.88,"y":20.3},{"p":"L","m":"M051","x":3.9,"y":7},{"p":"L","m":"M050","x":3.21,"y":2.1},{"p":"L","m":"M049","x":3.52,"y":2.9},{"p":"L","m":"M050","x":3.62,"y":-1.2},{"p":"L","m":"M053","x":3.73,"y":-0.6},{"p":"L","m":"M049","x":3.86,"y":2.5},{"p":"L","m":"M050","x":3.95,"y":1},{"p":"L","m":"M053","x":3.86,"y":-10.3}
]},
"columns":3,
"spacing":{"row":51,"column":78},
"bounds":"flush",
"concat":[
{"width":182,"height":130,"title":{"text":"Locomotion evoked average","offset":9},
"layer":[
{"data":{"name":"letters"},"transform":[{"filter":"datum.p=='A'"}],"mark":{"type":"rule","color":"#8c8c8c"},"encoding":{"y":{"datum":0,"type":"quantitative","scale":{"domain":[-20,60],"nice":false},"axis":{"values":[-20,0,20,40,60],"tickCount":10,"labelOverlap":false,"title":"Δ % diameter"}}}},
{"data":{"name":"pts"},"transform":[{"filter":"datum.p=='A'"}],"mark":{"type":"circle","size":48,"stroke":"#3a3a3a","strokeWidth":0.7,"opacity":1},"encoding":{"x":{"field":"x","type":"quantitative","scale":{"domain":[0,2],"nice":false,"zero":false},"axis":{"values":[0.52,1.58],"tickCount":10,"labelOverlap":false,"labelExpr":"datum.value < 1 ? ['Pial','artery'] : ['Penetrating','artery']","title":null}},"y":{"field":"y","type":"quantitative","axis":{"values":[-20,0,20,40,60],"tickCount":10,"labelOverlap":false,"title":"Δ % diameter"}},"color":{"field":"m","type":"nominal","scale":{"domain":["Pial","Penetrating"],"range":["#ff00ff","#00ff00"]},"legend":null}}},
{"data":{"name":"bars"},"transform":[{"filter":"datum.p=='A'"}],"mark":{"type":"tick","orient":"horizontal","size":72,"thickness":2,"color":"#111111"},"encoding":{"x":{"field":"x","type":"quantitative"},"y":{"field":"y","type":"quantitative"}}},
{"data":{"name":"sig"},"transform":[{"filter":"datum.p=='A'"}],"mark":{"type":"rule","color":"#262626"},"encoding":{"x":{"field":"x","type":"quantitative"},"x2":{"field":"x2"},"y":{"field":"y","type":"quantitative"}}},
{"data":{"name":"sigt"},"transform":[{"filter":"datum.p=='A'"}],"mark":{"type":"text","fontSize":12,"baseline":"middle","dy":2,"color":"#1a1a1a"},"encoding":{"x":{"field":"x","type":"quantitative"},"y":{"field":"y","type":"quantitative"},"text":{"field":"t"}}},
{"data":{"name":"letters"},"transform":[{"filter":"datum.p=='A'"}],"mark":{"type":"text","fontSize":15,"dx":-28,"dy":-7,"baseline":"middle","align":"center","color":"#000000"},"encoding":{"x":{"datum":0,"type":"quantitative"},"y":{"datum":60,"type":"quantitative"},"text":{"field":"t"}}}
]},
{"width":182,"height":130,"title":{"text":"Muscimol","offset":13},
"layer":[
{"data":{"name":"letters"},"transform":[{"filter":"datum.p=='B'"}],"mark":{"type":"rule","color":"#8c8c8c"},"encoding":{"y":{"datum":0,"type":"quantitative","scale":{"domain":[-20,60],"nice":false},"axis":{"values":[-20,0,20,40,60],"tickCount":10,"labelOverlap":false,"title":"Δ % diameter"}}}},
{"data":{"name":"bars"},"transform":[{"filter":"datum.p=='B'"}],"mark":{"type":"bar","width":40,"stroke":"#b0b0b0","strokeWidth":1},"encoding":{"x":{"field":"x","type":"quantitative","scale":{"domain":[0,4],"nice":false,"zero":false},"axis":{"values":[0.5,1.5,2.5,3.5],"tickCount":10,"labelOverlap":false,"labelExpr":"[['ACSF','pial'],['Muscimol','pial'],['ACSF','penetrating'],['Muscimol','penetrating']][floor(datum.value)]","title":null}},"y":{"field":"y","type":"quantitative","axis":{"values":[-20,0,20,40,60],"tickCount":10,"labelOverlap":false,"title":"Δ % diameter"}},"y2":{"datum":0},"fill":{"field":"t","type":"nominal","scale":{"domain":["c","d"],"range":["#231f20","#ff0000"]},"legend":null}}},
{"data":{"name":"pts"},"transform":[{"filter":"datum.p=='B'"}],"mark":{"type":"circle","size":48,"stroke":"#3a3a3a","strokeWidth":0.7,"opacity":1},"encoding":{"x":{"field":"x","type":"quantitative"},"y":{"field":"y","type":"quantitative"},"color":{"field":"m","type":"nominal","scale":{"domain":["M001","M002","M003","M004","M005","M006","M007","M008"],"range":["#7fcbb8","#ffffb0","#b5b0d8","#f47a6c","#6fa6d3","#a6d65e","#f9c6df","#d6d6d6"]},"legend":{"title":null,"orient":"none","legendX":189,"legendY":27}}}},
{"data":{"name":"sig"},"transform":[{"filter":"datum.p=='B'"}],"mark":{"type":"rule","color":"#262626"},"encoding":{"x":{"field":"x","type":"quantitative"},"x2":{"field":"x2"},"y":{"field":"y","type":"quantitative"}}},
{"data":{"name":"sigt"},"transform":[{"filter":"datum.p=='B'"}],"mark":{"type":"text","fontSize":12,"baseline":"middle","dy":2,"color":"#1a1a1a"},"encoding":{"x":{"field":"x","type":"quantitative"},"y":{"field":"y","type":"quantitative"},"text":{"field":"t"}}},
{"data":{"name":"letters"},"transform":[{"filter":"datum.p=='B'"}],"mark":{"type":"text","fontSize":15,"dx":-28,"dy":-5,"baseline":"middle","align":"center","color":"#000000"},"encoding":{"x":{"datum":0,"type":"quantitative"},"y":{"datum":60,"type":"quantitative"},"text":{"field":"t"}}}
]},
{"width":182,"height":130,"title":{"text":"hSyn-mCherry","offset":11},
"layer":[
{"data":{"name":"letters"},"transform":[{"filter":"datum.p=='C'"}],"mark":{"type":"rule","color":"#8c8c8c"},"encoding":{"y":{"datum":0,"type":"quantitative","scale":{"domain":[-20,60],"nice":false},"axis":{"values":[-20,0,20,40,60],"tickCount":10,"labelOverlap":false,"title":"Δ % diameter"}}}},
{"data":{"name":"bars"},"transform":[{"filter":"datum.p=='C'"}],"mark":{"type":"bar","width":40,"stroke":"#b0b0b0","strokeWidth":1},"encoding":{"x":{"field":"x","type":"quantitative","scale":{"domain":[0,4],"nice":false,"zero":false},"axis":{"values":[0.5,1.5,2.5,3.5],"tickCount":10,"labelOverlap":false,"labelExpr":"[['DMSO','pial'],['CNO','pial'],['DMSO','penetrating'],['CNO','penetrating']][floor(datum.value)]","title":null}},"y":{"field":"y","type":"quantitative","axis":{"values":[-20,0,20,40,60],"tickCount":10,"labelOverlap":false,"title":"Δ % diameter"}},"y2":{"datum":0},"fill":{"field":"t","type":"nominal","scale":{"domain":["c","d"],"range":["#231f20","#ff0000"]},"legend":null}}},
{"data":{"name":"pts"},"transform":[{"filter":"datum.p=='C'"}],"mark":{"type":"circle","size":48,"stroke":"#3a3a3a","strokeWidth":0.7,"opacity":1},"encoding":{"x":{"field":"x","type":"quantitative"},"y":{"field":"y","type":"quantitative"},"color":{"field":"m","type":"nominal","scale":{"domain":["M074","M075","M076","M077","M078","M079","M080","M081","M082","M083","M085"],"range":["#7fcbb8","#ffffb0","#b5b0d8","#f47a6c","#6fa6d3","#fbac55","#a6d65e","#f9c6df","#d6d6d6","#a864ad","#ffe94a"]},"legend":{"title":null,"orient":"none","legendX":186,"legendY":-4.5}}}},
{"data":{"name":"sig"},"transform":[{"filter":"datum.p=='C'"}],"mark":{"type":"rule","color":"#262626"},"encoding":{"x":{"field":"x","type":"quantitative"},"x2":{"field":"x2"},"y":{"field":"y","type":"quantitative"}}},
{"data":{"name":"sigt"},"transform":[{"filter":"datum.p=='C'"}],"mark":{"type":"text","fontSize":12,"baseline":"middle","dy":2,"color":"#1a1a1a"},"encoding":{"x":{"field":"x","type":"quantitative"},"y":{"field":"y","type":"quantitative"},"text":{"field":"t"}}},
{"data":{"name":"letters"},"transform":[{"filter":"datum.p=='C'"}],"mark":{"type":"text","fontSize":15,"dx":-27,"dy":-4,"baseline":"middle","align":"center","color":"#000000"},"encoding":{"x":{"datum":0,"type":"quantitative"},"y":{"datum":60,"type":"quantitative"},"text":{"field":"t"}}}
]},
{"width":182,"height":130,"title":{"text":"hSyn-Gi","offset":-9},
"layer":[
{"data":{"name":"letters"},"transform":[{"filter":"datum.p=='D'"}],"mark":{"type":"rule","color":"#8c8c8c"},"encoding":{"y":{"datum":0,"type":"quantitative","scale":{"domain":[-20,60],"nice":false},"axis":{"values":[-20,0,20,40,60],"tickCount":10,"labelOverlap":false,"title":"Δ % diameter"}}}},
{"data":{"name":"bars"},"transform":[{"filter":"datum.p=='D'"}],"mark":{"type":"bar","width":40,"stroke":"#b0b0b0","strokeWidth":1},"encoding":{"x":{"field":"x","type":"quantitative","scale":{"domain":[0,4],"nice":false,"zero":false},"axis":{"values":[0.5,1.5,2.5,3.5],"tickCount":10,"labelOverlap":false,"labelExpr":"[['DMSO','pial'],['CNO','pial'],['DMSO','penetrating'],['CNO','penetrating']][floor(datum.value)]","title":null}},"y":{"field":"y","type":"quantitative","axis":{"values":[-20,0,20,40,60],"tickCount":10,"labelOverlap":false,"title":"Δ % diameter"}},"y2":{"datum":0},"fill":{"field":"t","type":"nominal","scale":{"domain":["c","d"],"range":["#231f20","#ff0000"]},"legend":null}}},
{"data":{"name":"pts"},"transform":[{"filter":"datum.p=='D'"}],"mark":{"type":"circle","size":48,"stroke":"#3a3a3a","strokeWidth":0.7,"opacity":1},"encoding":{"x":{"field":"x","type":"quantitative"},"y":{"field":"y","type":"quantitative"},"color":{"field":"m","type":"nominal","scale":{"domain":["M007","M008","M009","M010","M011","M012","M013"],"range":["#7fcbb8","#ffffb0","#b5b0d8","#f47a6c","#6fa6d3","#fbac55","#a6d65e"]},"legend":{"title":null,"orient":"none","legendX":190,"legendY":19.5}}}},
{"data":{"name":"sig"},"transform":[{"filter":"datum.p=='D'"}],"mark":{"type":"rule","color":"#262626"},"encoding":{"x":{"field":"x","type":"quantitative"},"x2":{"field":"x2"},"y":{"field":"y","type":"quantitative"}}},
{"data":{"name":"sigt"},"transform":[{"filter":"datum.p=='D'"}],"mark":{"type":"text","fontSize":12,"baseline":"middle","dy":2,"color":"#1a1a1a"},"encoding":{"x":{"field":"x","type":"quantitative"},"y":{"field":"y","type":"quantitative"},"text":{"field":"t"}}},
{"data":{"name":"letters"},"transform":[{"filter":"datum.p=='D'"}],"mark":{"type":"text","fontSize":15,"dx":-30,"dy":-6,"baseline":"middle","align":"center","color":"#000000"},"encoding":{"x":{"datum":0,"type":"quantitative"},"y":{"datum":60,"type":"quantitative"},"text":{"field":"t"}}}
]},
{"width":182,"height":130,"title":{"text":"hSyn-Gq","offset":-8.5},
"layer":[
{"data":{"name":"letters"},"transform":[{"filter":"datum.p=='E'"}],"mark":{"type":"rule","color":"#8c8c8c"},"encoding":{"y":{"datum":0,"type":"quantitative","scale":{"domain":[-20,60],"nice":false},"axis":{"values":[-20,0,20,40,60],"tickCount":10,"labelOverlap":false,"title":"Δ % diameter"}}}},
{"data":{"name":"bars"},"transform":[{"filter":"datum.p=='E'"}],"mark":{"type":"bar","width":40,"stroke":"#b0b0b0","strokeWidth":1},"encoding":{"x":{"field":"x","type":"quantitative","scale":{"domain":[0,4],"nice":false,"zero":false},"axis":{"values":[0.5,1.5,2.5,3.5],"tickCount":10,"labelOverlap":false,"labelExpr":"[['DMSO','pial'],['CNO','pial'],['DMSO','penetrating'],['CNO','penetrating']][floor(datum.value)]","title":null}},"y":{"field":"y","type":"quantitative","axis":{"values":[-20,0,20,40,60],"tickCount":10,"labelOverlap":false,"title":"Δ % diameter"}},"y2":{"datum":0},"fill":{"field":"t","type":"nominal","scale":{"domain":["c","d"],"range":["#231f20","#ff0000"]},"legend":null}}},
{"data":{"name":"pts"},"transform":[{"filter":"datum.p=='E'"}],"mark":{"type":"circle","size":48,"stroke":"#3a3a3a","strokeWidth":0.7,"opacity":1},"encoding":{"x":{"field":"x","type":"quantitative"},"y":{"field":"y","type":"quantitative"},"color":{"field":"m","type":"nominal","scale":{"domain":["M014","M015","M016","M017","M018","M019","M020"],"range":["#7fcbb8","#ffffb0","#b5b0d8","#f47a6c","#6fa6d3","#fbac55","#a6d65e"]},"legend":{"title":null,"orient":"none","legendX":189,"legendY":35.5}}}},
{"data":{"name":"sig"},"transform":[{"filter":"datum.p=='E'"}],"mark":{"type":"rule","color":"#262626"},"encoding":{"x":{"field":"x","type":"quantitative"},"x2":{"field":"x2"},"y":{"field":"y","type":"quantitative"}}},
{"data":{"name":"sigt"},"transform":[{"filter":"datum.p=='E'"}],"mark":{"type":"text","fontSize":12,"baseline":"middle","dy":2,"color":"#1a1a1a"},"encoding":{"x":{"field":"x","type":"quantitative"},"y":{"field":"y","type":"quantitative"},"text":{"field":"t"}}},
{"data":{"name":"letters"},"transform":[{"filter":"datum.p=='E'"}],"mark":{"type":"text","fontSize":15,"dx":-28,"dy":-5,"baseline":"middle","align":"center","color":"#000000"},"encoding":{"x":{"datum":0,"type":"quantitative"},"y":{"datum":60,"type":"quantitative"},"text":{"field":"t"}}}
]},
{"width":182,"height":130,"title":{"text":"CaMKIIa-Gi","offset":-8.5},
"layer":[
{"data":{"name":"letters"},"transform":[{"filter":"datum.p=='F'"}],"mark":{"type":"rule","color":"#8c8c8c"},"encoding":{"y":{"datum":0,"type":"quantitative","scale":{"domain":[-20,60],"nice":false},"axis":{"values":[-20,0,20,40,60],"tickCount":10,"labelOverlap":false,"title":"Δ % diameter"}}}},
{"data":{"name":"bars"},"transform":[{"filter":"datum.p=='F'"}],"mark":{"type":"bar","width":40,"stroke":"#b0b0b0","strokeWidth":1},"encoding":{"x":{"field":"x","type":"quantitative","scale":{"domain":[0,4],"nice":false,"zero":false},"axis":{"values":[0.5,1.5,2.5,3.5],"tickCount":10,"labelOverlap":false,"labelExpr":"[['DMSO','pial'],['CNO','pial'],['DMSO','penetrating'],['CNO','penetrating']][floor(datum.value)]","title":null}},"y":{"field":"y","type":"quantitative","axis":{"values":[-20,0,20,40,60],"tickCount":10,"labelOverlap":false,"title":"Δ % diameter"}},"y2":{"datum":0},"fill":{"field":"t","type":"nominal","scale":{"domain":["c","d"],"range":["#231f20","#ff0000"]},"legend":null}}},
{"data":{"name":"pts"},"transform":[{"filter":"datum.p=='F'"}],"mark":{"type":"circle","size":48,"stroke":"#3a3a3a","strokeWidth":0.7,"opacity":1},"encoding":{"x":{"field":"x","type":"quantitative"},"y":{"field":"y","type":"quantitative"},"color":{"field":"m","type":"nominal","scale":{"domain":["M021","M022","M023","M024","M025","M026","M027"],"range":["#7fcbb8","#ffffb0","#b5b0d8","#f47a6c","#6fa6d3","#fbac55","#a6d65e"]},"legend":{"title":null,"orient":"none","legendX":186,"legendY":24.5}}}},
{"data":{"name":"sig"},"transform":[{"filter":"datum.p=='F'"}],"mark":{"type":"rule","color":"#262626"},"encoding":{"x":{"field":"x","type":"quantitative"},"x2":{"field":"x2"},"y":{"field":"y","type":"quantitative"}}},
{"data":{"name":"sigt"},"transform":[{"filter":"datum.p=='F'"}],"mark":{"type":"text","fontSize":12,"baseline":"middle","dy":2,"color":"#1a1a1a"},"encoding":{"x":{"field":"x","type":"quantitative"},"y":{"field":"y","type":"quantitative"},"text":{"field":"t"}}},
{"data":{"name":"letters"},"transform":[{"filter":"datum.p=='F'"}],"mark":{"type":"text","fontSize":15,"dx":-27,"dy":-5,"baseline":"middle","align":"center","color":"#000000"},"encoding":{"x":{"datum":0,"type":"quantitative"},"y":{"datum":60,"type":"quantitative"},"text":{"field":"t"}}}
]},
{"width":182,"height":130,"title":{"text":"CaMKIIa-Gq","offset":-5.5},
"layer":[
{"data":{"name":"letters"},"transform":[{"filter":"datum.p=='G'"}],"mark":{"type":"rule","color":"#8c8c8c"},"encoding":{"y":{"datum":0,"type":"quantitative","scale":{"domain":[-20,60],"nice":false},"axis":{"values":[-20,0,20,40,60],"tickCount":10,"labelOverlap":false,"title":"Δ % diameter"}}}},
{"data":{"name":"bars"},"transform":[{"filter":"datum.p=='G'"}],"mark":{"type":"bar","width":40,"stroke":"#b0b0b0","strokeWidth":1},"encoding":{"x":{"field":"x","type":"quantitative","scale":{"domain":[0,4],"nice":false,"zero":false},"axis":{"values":[0.5,1.5,2.5,3.5],"tickCount":10,"labelOverlap":false,"labelExpr":"[['DMSO','pial'],['CNO','pial'],['DMSO','penetrating'],['CNO','penetrating']][floor(datum.value)]","title":null}},"y":{"field":"y","type":"quantitative","axis":{"values":[-20,0,20,40,60],"tickCount":10,"labelOverlap":false,"title":"Δ % diameter"}},"y2":{"datum":0},"fill":{"field":"t","type":"nominal","scale":{"domain":["c","d"],"range":["#231f20","#ff0000"]},"legend":null}}},
{"data":{"name":"pts"},"transform":[{"filter":"datum.p=='G'"}],"mark":{"type":"circle","size":48,"stroke":"#3a3a3a","strokeWidth":0.7,"opacity":1},"encoding":{"x":{"field":"x","type":"quantitative"},"y":{"field":"y","type":"quantitative"},"color":{"field":"m","type":"nominal","scale":{"domain":["M028","M030","M031","M032","M029","M033"],"range":["#7fcbb8","#b5b0d8","#f47a6c","#6fa6d3","#ffffb0","#fbac55"]},"legend":{"title":null,"orient":"none","legendX":190,"legendY":44.5}}}},
{"data":{"name":"sig"},"transform":[{"filter":"datum.p=='G'"}],"mark":{"type":"rule","color":"#262626"},"encoding":{"x":{"field":"x","type":"quantitative"},"x2":{"field":"x2"},"y":{"field":"y","type":"quantitative"}}},
{"data":{"name":"sigt"},"transform":[{"filter":"datum.p=='G'"}],"mark":{"type":"text","fontSize":12,"baseline":"middle","dy":2,"color":"#1a1a1a"},"encoding":{"x":{"field":"x","type":"quantitative"},"y":{"field":"y","type":"quantitative"},"text":{"field":"t"}}},
{"data":{"name":"letters"},"transform":[{"filter":"datum.p=='G'"}],"mark":{"type":"text","fontSize":15,"dx":-30,"dy":-5,"baseline":"middle","align":"center","color":"#000000"},"encoding":{"x":{"datum":0,"type":"quantitative"},"y":{"datum":60,"type":"quantitative"},"text":{"field":"t"}}}
]},
{"width":182,"height":130,"title":{"text":"nNOS-Gi","offset":-5.5},
"layer":[
{"data":{"name":"letters"},"transform":[{"filter":"datum.p=='H'"}],"mark":{"type":"rule","color":"#8c8c8c"},"encoding":{"y":{"datum":0,"type":"quantitative","scale":{"domain":[-20,60],"nice":false},"axis":{"values":[-20,0,20,40,60],"tickCount":10,"labelOverlap":false,"title":"Δ % diameter"}}}},
{"data":{"name":"bars"},"transform":[{"filter":"datum.p=='H'"}],"mark":{"type":"bar","width":41,"stroke":"#b0b0b0","strokeWidth":1},"encoding":{"x":{"field":"x","type":"quantitative","scale":{"domain":[0,4],"nice":false,"zero":false},"axis":{"values":[0.5,1.5,2.5,3.5],"tickCount":10,"labelOverlap":false,"labelExpr":"[['DMSO','pial'],['CNO','pial'],['DMSO','penetrating'],['CNO','penetrating']][floor(datum.value)]","title":null}},"y":{"field":"y","type":"quantitative","axis":{"values":[-20,0,20,40,60],"tickCount":10,"labelOverlap":false,"title":"Δ % diameter"}},"y2":{"datum":0},"fill":{"field":"t","type":"nominal","scale":{"domain":["c","d"],"range":["#231f20","#ff0000"]},"legend":null}}},
{"data":{"name":"pts"},"transform":[{"filter":"datum.p=='H'"}],"mark":{"type":"circle","size":48,"stroke":"#3a3a3a","strokeWidth":0.7,"opacity":1},"encoding":{"x":{"field":"x","type":"quantitative"},"y":{"field":"y","type":"quantitative"},"color":{"field":"m","type":"nominal","scale":{"domain":["M034","M036","M037","M038","M039","M041","M042","M035","M040"],"range":["#7fcbb8","#b5b0d8","#f47a6c","#6fa6d3","#fbac55","#f9c6df","#d6d6d6","#ffffb0","#a6d65e"]},"legend":{"title":null,"orient":"none","legendX":190,"legendY":15.5}}}},
{"data":{"name":"sig"},"transform":[{"filter":"datum.p=='H'"}],"mark":{"type":"rule","color":"#262626"},"encoding":{"x":{"field":"x","type":"quantitative"},"x2":{"field":"x2"},"y":{"field":"y","type":"quantitative"}}},
{"data":{"name":"sigt"},"transform":[{"filter":"datum.p=='H'"}],"mark":{"type":"text","fontSize":12,"baseline":"middle","dy":2,"color":"#1a1a1a"},"encoding":{"x":{"field":"x","type":"quantitative"},"y":{"field":"y","type":"quantitative"},"text":{"field":"t"}}},
{"data":{"name":"letters"},"transform":[{"filter":"datum.p=='H'"}],"mark":{"type":"text","fontSize":15,"dx":-30,"dy":-6,"baseline":"middle","align":"center","color":"#000000"},"encoding":{"x":{"datum":0,"type":"quantitative"},"y":{"datum":60,"type":"quantitative"},"text":{"field":"t"}}}
]},
{"width":182,"height":130,"title":{"text":"nNOS-Gq","offset":-4.5},
"layer":[
{"data":{"name":"letters"},"transform":[{"filter":"datum.p=='I'"}],"mark":{"type":"rule","color":"#8c8c8c"},"encoding":{"y":{"datum":0,"type":"quantitative","scale":{"domain":[-20,60],"nice":false},"axis":{"values":[-20,0,20,40,60],"tickCount":10,"labelOverlap":false,"title":"Δ % diameter"}}}},
{"data":{"name":"bars"},"transform":[{"filter":"datum.p=='I'"}],"mark":{"type":"bar","width":40,"stroke":"#b0b0b0","strokeWidth":1},"encoding":{"x":{"field":"x","type":"quantitative","scale":{"domain":[0,4],"nice":false,"zero":false},"axis":{"values":[0.5,1.5,2.5,3.5],"tickCount":10,"labelOverlap":false,"labelExpr":"[['DMSO','pial'],['CNO','pial'],['DMSO','penetrating'],['CNO','penetrating']][floor(datum.value)]","title":null}},"y":{"field":"y","type":"quantitative","axis":{"values":[-20,0,20,40,60],"tickCount":10,"labelOverlap":false,"title":"Δ % diameter"}},"y2":{"datum":0},"fill":{"field":"t","type":"nominal","scale":{"domain":["c","d"],"range":["#231f20","#ff0000"]},"legend":null}}},
{"data":{"name":"pts"},"transform":[{"filter":"datum.p=='I'"}],"mark":{"type":"circle","size":48,"stroke":"#3a3a3a","strokeWidth":0.7,"opacity":1},"encoding":{"x":{"field":"x","type":"quantitative"},"y":{"field":"y","type":"quantitative"},"color":{"field":"m","type":"nominal","scale":{"domain":["M043","M044","M045","M046","M047","M048","M049","M050"],"range":["#7fcbb8","#ffffb0","#b5b0d8","#f47a6c","#6fa6d3","#fbac55","#a6d65e","#f9c6df"]},"legend":{"title":null,"orient":"none","legendX":186,"legendY":18.5}}}},
{"data":{"name":"sig"},"transform":[{"filter":"datum.p=='I'"}],"mark":{"type":"rule","color":"#262626"},"encoding":{"x":{"field":"x","type":"quantitative"},"x2":{"field":"x2"},"y":{"field":"y","type":"quantitative"}}},
{"data":{"name":"sigt"},"transform":[{"filter":"datum.p=='I'"}],"mark":{"type":"text","fontSize":12,"baseline":"middle","dy":2,"color":"#1a1a1a"},"encoding":{"x":{"field":"x","type":"quantitative"},"y":{"field":"y","type":"quantitative"},"text":{"field":"t"}}},
{"data":{"name":"letters"},"transform":[{"filter":"datum.p=='I'"}],"mark":{"type":"text","fontSize":15,"dx":-27,"dy":-5,"baseline":"middle","align":"center","color":"#000000"},"encoding":{"x":{"datum":0,"type":"quantitative"},"y":{"datum":60,"type":"quantitative"},"text":{"field":"t"}}}
]},
{"width":182,"height":130,"title":{"text":"CP99994","offset":-8.5},
"layer":[
{"data":{"name":"letters"},"transform":[{"filter":"datum.p=='J'"}],"mark":{"type":"rule","color":"#8c8c8c"},"encoding":{"y":{"datum":0,"type":"quantitative","scale":{"domain":[-20,60],"nice":false},"axis":{"values":[-20,0,20,40,60],"tickCount":10,"labelOverlap":false,"title":"Δ % diameter"}}}},
{"data":{"name":"bars"},"transform":[{"filter":"datum.p=='J'"}],"mark":{"type":"bar","width":40,"stroke":"#b0b0b0","strokeWidth":1},"encoding":{"x":{"field":"x","type":"quantitative","scale":{"domain":[0,4],"nice":false,"zero":false},"axis":{"values":[0.5,1.5,2.5,3.5],"tickCount":10,"labelOverlap":false,"labelExpr":"[['ACSF','pial'],['CP99994','pial'],['ACSF','penetrating'],['CP99994','penetrating']][floor(datum.value)]","title":null}},"y":{"field":"y","type":"quantitative","axis":{"values":[-20,0,20,40,60],"tickCount":10,"labelOverlap":false,"title":"Δ % diameter"}},"y2":{"datum":0},"fill":{"field":"t","type":"nominal","scale":{"domain":["c","d"],"range":["#231f20","#ff0000"]},"legend":null}}},
{"data":{"name":"pts"},"transform":[{"filter":"datum.p=='J'"}],"mark":{"type":"circle","size":48,"stroke":"#3a3a3a","strokeWidth":0.7,"opacity":1},"encoding":{"x":{"field":"x","type":"quantitative"},"y":{"field":"y","type":"quantitative"},"color":{"field":"m","type":"nominal","scale":{"domain":["M060","M061","M062","M063","M064","M065","M066"],"range":["#7fcbb8","#ffffb0","#b5b0d8","#f47a6c","#6fa6d3","#fbac55","#a6d65e"]},"legend":{"title":null,"orient":"none","legendX":190,"legendY":33.5}}}},
{"data":{"name":"sig"},"transform":[{"filter":"datum.p=='J'"}],"mark":{"type":"rule","color":"#262626"},"encoding":{"x":{"field":"x","type":"quantitative"},"x2":{"field":"x2"},"y":{"field":"y","type":"quantitative"}}},
{"data":{"name":"sigt"},"transform":[{"filter":"datum.p=='J'"}],"mark":{"type":"text","fontSize":12,"baseline":"middle","dy":2,"color":"#1a1a1a"},"encoding":{"x":{"field":"x","type":"quantitative"},"y":{"field":"y","type":"quantitative"},"text":{"field":"t"}}},
{"data":{"name":"letters"},"transform":[{"filter":"datum.p=='J'"}],"mark":{"type":"text","fontSize":15,"dx":-30,"dy":-8,"baseline":"middle","align":"center","color":"#000000"},"encoding":{"x":{"datum":0,"type":"quantitative"},"y":{"datum":60,"type":"quantitative"},"text":{"field":"t"}}}
]},
{"width":182,"height":130,"title":{"text":"Substance P","offset":-8.5},
"layer":[
{"data":{"name":"letters"},"transform":[{"filter":"datum.p=='K'"}],"mark":{"type":"rule","color":"#8c8c8c"},"encoding":{"y":{"datum":0,"type":"quantitative","scale":{"domain":[-20,60],"nice":false},"axis":{"values":[-20,0,20,40,60],"tickCount":10,"labelOverlap":false,"title":"Δ % diameter"}}}},
{"data":{"name":"bars"},"transform":[{"filter":"datum.p=='K'"}],"mark":{"type":"bar","width":40,"stroke":"#b0b0b0","strokeWidth":1},"encoding":{"x":{"field":"x","type":"quantitative","scale":{"domain":[0,4],"nice":false,"zero":false},"axis":{"values":[0.5,1.5,2.5,3.5],"tickCount":10,"labelOverlap":false,"labelExpr":"[['ACSF','pial'],['Substance P','pial'],['ACSF','penetrating'],['Substance P','penetrating']][floor(datum.value)]","title":null}},"y":{"field":"y","type":"quantitative","axis":{"values":[-20,0,20,40,60],"tickCount":10,"labelOverlap":false,"title":"Δ % diameter"}},"y2":{"datum":0},"fill":{"field":"t","type":"nominal","scale":{"domain":["c","d"],"range":["#231f20","#ff0000"]},"legend":null}}},
{"data":{"name":"pts"},"transform":[{"filter":"datum.p=='K'"}],"mark":{"type":"circle","size":48,"stroke":"#3a3a3a","strokeWidth":0.7,"opacity":1},"encoding":{"x":{"field":"x","type":"quantitative"},"y":{"field":"y","type":"quantitative"},"color":{"field":"m","type":"nominal","scale":{"domain":["M067","M068","M070","M071","M072","M073","M069"],"range":["#7fcbb8","#ffffb0","#f47a6c","#6fa6d3","#fbac55","#a6d65e","#ffffd4"]},"legend":{"title":null,"orient":"none","legendX":190,"legendY":19.5}}}},
{"data":{"name":"sig"},"transform":[{"filter":"datum.p=='K'"}],"mark":{"type":"rule","color":"#262626"},"encoding":{"x":{"field":"x","type":"quantitative"},"x2":{"field":"x2"},"y":{"field":"y","type":"quantitative"}}},
{"data":{"name":"sigt"},"transform":[{"filter":"datum.p=='K'"}],"mark":{"type":"text","fontSize":12,"baseline":"middle","dy":2,"color":"#1a1a1a"},"encoding":{"x":{"field":"x","type":"quantitative"},"y":{"field":"y","type":"quantitative"},"text":{"field":"t"}}},
{"data":{"name":"letters"},"transform":[{"filter":"datum.p=='K'"}],"mark":{"type":"text","fontSize":15,"dx":-28,"dy":-8,"baseline":"middle","align":"center","color":"#000000"},"encoding":{"x":{"datum":0,"type":"quantitative"},"y":{"datum":60,"type":"quantitative"},"text":{"field":"t"}}}
]},
{"width":182,"height":130,"title":{"text":"L-NAME","offset":-9},
"layer":[
{"data":{"name":"letters"},"transform":[{"filter":"datum.p=='L'"}],"mark":{"type":"rule","color":"#8c8c8c"},"encoding":{"y":{"datum":0,"type":"quantitative","scale":{"domain":[-20,60],"nice":false},"axis":{"values":[-20,0,20,40,60],"tickCount":10,"labelOverlap":false,"title":"Δ % diameter"}}}},
{"data":{"name":"bars"},"transform":[{"filter":"datum.p=='L'"}],"mark":{"type":"bar","width":40,"stroke":"#b0b0b0","strokeWidth":1},"encoding":{"x":{"field":"x","type":"quantitative","scale":{"domain":[0,4],"nice":false,"zero":false},"axis":{"values":[0.5,1.5,2.5,3.5],"tickCount":10,"labelOverlap":false,"labelExpr":"[['ACSF','pial'],['L-NAME','pial'],['ACSF','penetrating'],['L-NAME','penetrating']][floor(datum.value)]","title":null}},"y":{"field":"y","type":"quantitative","axis":{"values":[-20,0,20,40,60],"tickCount":10,"labelOverlap":false,"title":"Δ % diameter"}},"y2":{"datum":0},"fill":{"field":"t","type":"nominal","scale":{"domain":["c","d"],"range":["#231f20","#ff0000"]},"legend":null}}},
{"data":{"name":"pts"},"transform":[{"filter":"datum.p=='L'"}],"mark":{"type":"circle","size":48,"stroke":"#3a3a3a","strokeWidth":0.7,"opacity":1},"encoding":{"x":{"field":"x","type":"quantitative"},"y":{"field":"y","type":"quantitative"},"color":{"field":"m","type":"nominal","scale":{"domain":["M049","M050","M051","M052","M053","M054"],"range":["#7fcbb8","#ffffb0","#b5b0d8","#f47a6c","#6fa6d3","#fbac55"]},"legend":{"title":null,"orient":"none","legendX":186,"legendY":39.5}}}},
{"data":{"name":"sig"},"transform":[{"filter":"datum.p=='L'"}],"mark":{"type":"rule","color":"#262626"},"encoding":{"x":{"field":"x","type":"quantitative"},"x2":{"field":"x2"},"y":{"field":"y","type":"quantitative"}}},
{"data":{"name":"sigt"},"transform":[{"filter":"datum.p=='L'"}],"mark":{"type":"text","fontSize":12,"baseline":"middle","dy":2,"color":"#1a1a1a"},"encoding":{"x":{"field":"x","type":"quantitative"},"y":{"field":"y","type":"quantitative"},"text":{"field":"t"}}},
{"data":{"name":"letters"},"transform":[{"filter":"datum.p=='L'"}],"mark":{"type":"text","fontSize":15,"dx":-27,"dy":-8,"baseline":"middle","align":"center","color":"#000000"},"encoding":{"x":{"datum":0,"type":"quantitative"},"y":{"datum":60,"type":"quantitative"},"text":{"field":"t"}}}
]}
]
}
